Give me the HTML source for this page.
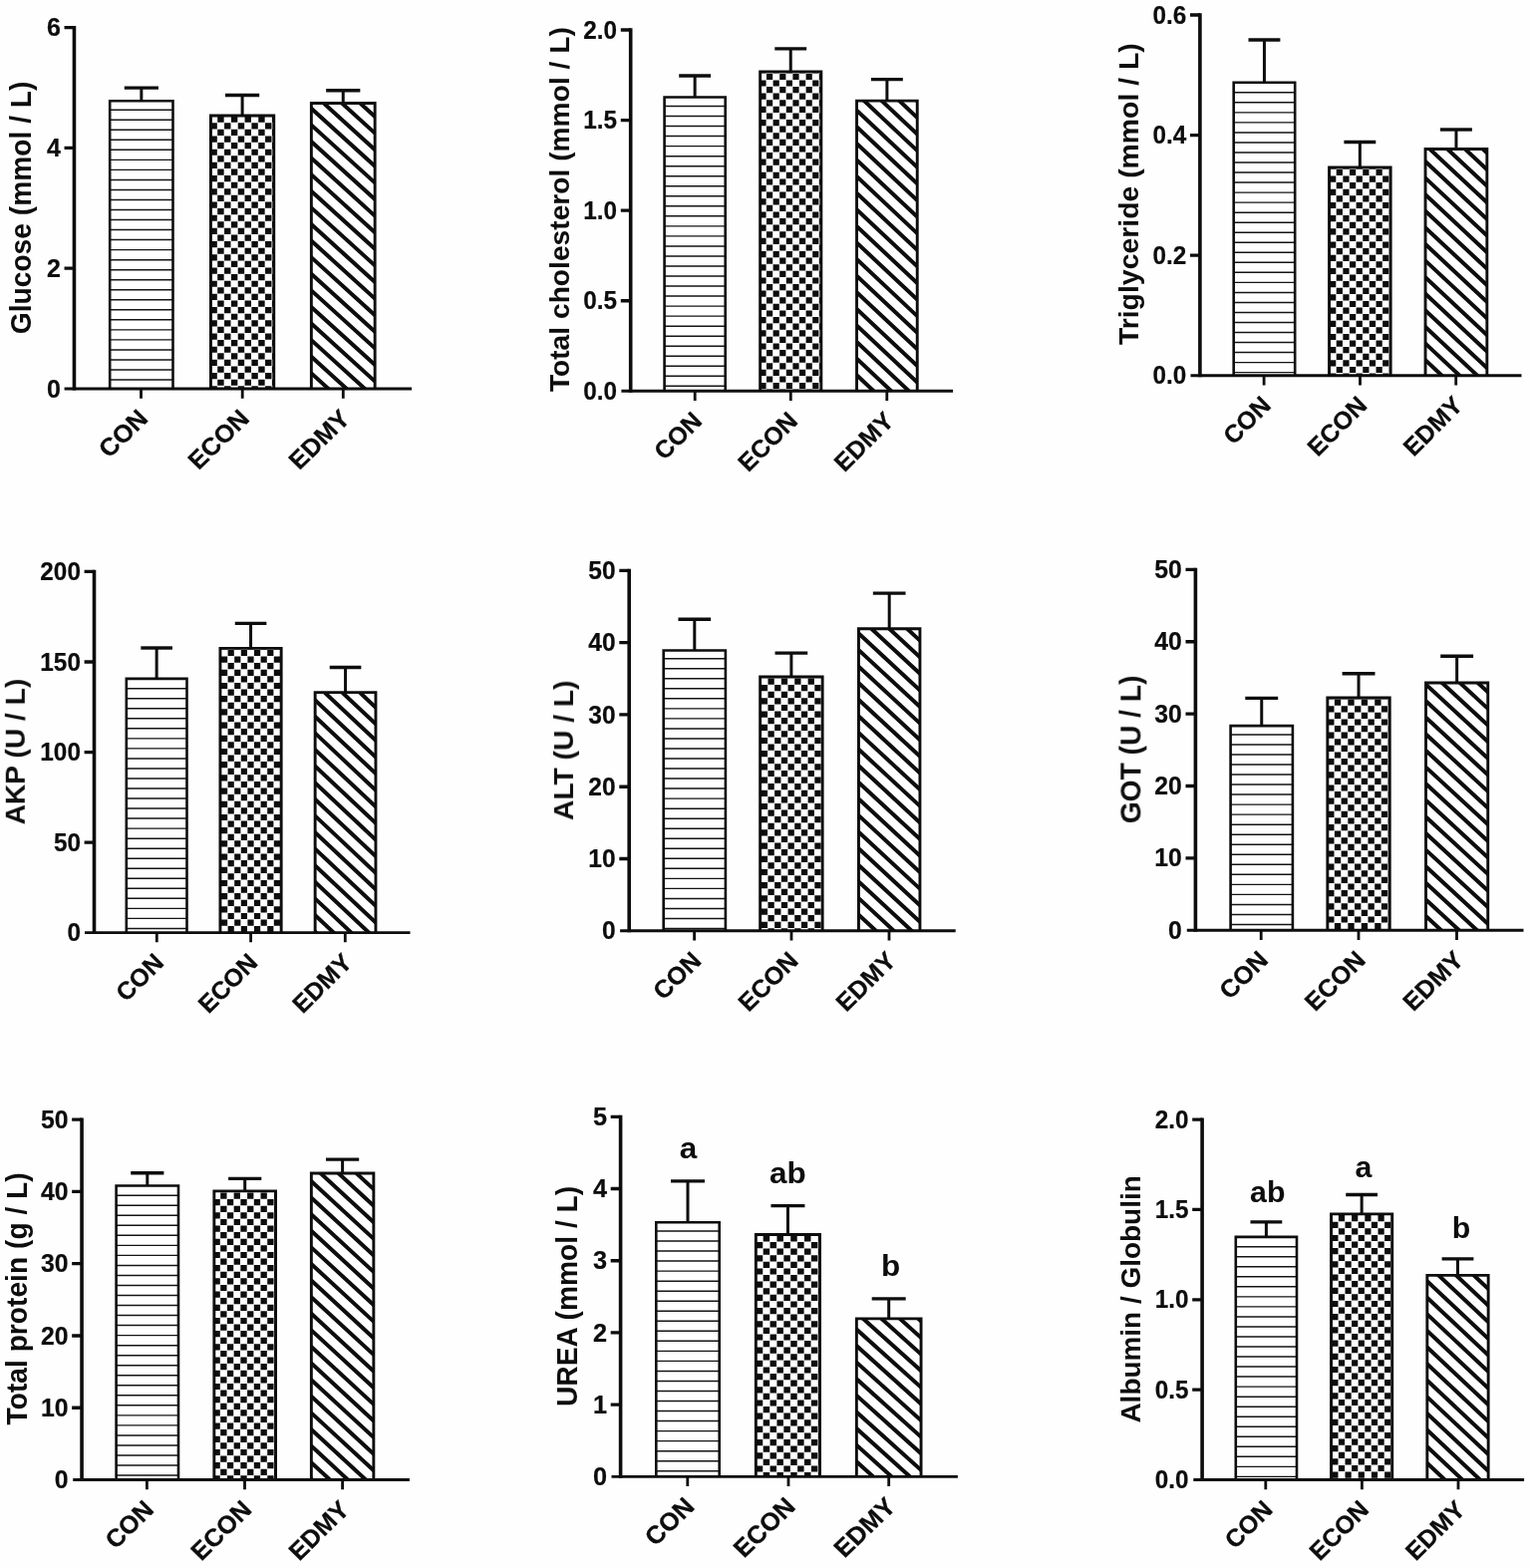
<!DOCTYPE html>
<html lang="en"><head><meta charset="utf-8"><title>Serum biochemical indices of CON, ECON and EDMY groups</title>
<style>
html,body{margin:0;padding:0;background:#fefefe;}
body{width:1535px;height:1573px;overflow:hidden;}
svg{display:block;}
#fig{filter:blur(0.4px);}
text{font-family:'Liberation Sans', Arial, Helvetica, sans-serif;font-weight:700;fill:#0d0d0d;stroke:#0d0d0d;stroke-width:0px;stroke-linejoin:round;}
.tk{font-size:24.3px;text-anchor:end;stroke-width:0.2px;}
.yl{font-size:28.2px;text-anchor:middle;}
.xl{font-size:24.9px;text-anchor:end;stroke-width:0.25px;}
.lt{font-size:30.3px;text-anchor:middle;}
.ax{stroke:#0d0d0d;stroke-width:3.6;fill:none;}
.axx{stroke:#0d0d0d;stroke-width:2.9;fill:none;}
.ti{stroke:#0d0d0d;stroke-width:3.3;fill:none;}
.tx{stroke:#0d0d0d;stroke-width:2.8;fill:none;}
.er{stroke:#0d0d0d;stroke-width:3.0;fill:none;}
.ca{stroke:#0d0d0d;stroke-width:3.4;fill:none;}
.bo{stroke:#0d0d0d;stroke-width:2.6;fill:none;}
.hl{stroke:#141414;stroke-width:1.45;fill:none;}
.dl{stroke:#0d0d0d;stroke-width:4.0;fill:none;}
.ck{fill:#0d0d0d;stroke:none;}
</style></head><body>
<svg width="1535" height="1573" viewBox="0 0 1535 1573" role="img" aria-label="Nine bar charts of serum indices">
<rect width="1535" height="1573" fill="#fefefe"/>
<g id="fig">
<g id="p1">
<path class="er" d="M141.85 101V88.1"/>
<path class="ca" d="M124.75 88.1H158.95"/>
<rect x="110.2" y="101.3" width="63.3" height="288.7" fill="#fff"/>
<svg x="110.2" y="101.3" width="63.3" height="288.7" viewBox="110.2 101.3 63.3 288.7" overflow="hidden"><path class="hl" d="M110.2 110.2H173.5M110.2 120.23H173.5M110.2 130.26H173.5M110.2 140.29H173.5M110.2 150.32H173.5M110.2 160.35H173.5M110.2 170.38H173.5M110.2 180.41H173.5M110.2 190.44H173.5M110.2 200.47H173.5M110.2 210.5H173.5M110.2 220.53H173.5M110.2 230.56H173.5M110.2 240.59H173.5M110.2 250.62H173.5M110.2 260.65H173.5M110.2 270.68H173.5M110.2 280.71H173.5M110.2 290.74H173.5M110.2 300.77H173.5M110.2 310.8H173.5M110.2 320.83H173.5M110.2 330.86H173.5M110.2 340.89H173.5M110.2 350.92H173.5M110.2 360.95H173.5M110.2 370.98H173.5M110.2 381.01H173.5"/></svg>
<path class="bo" d="M110.2 390V101.3H173.5V390"/>
<path class="er" d="M243.1 115.5V95.5"/>
<path class="ca" d="M226 95.5H260.2"/>
<rect x="211.3" y="115.8" width="63.6" height="274.2" fill="#fff"/>
<svg x="211.3" y="115.8" width="63.6" height="274.2" viewBox="211.3 115.8 63.6 274.2" overflow="hidden"><path class="ck" d="M204.57 103.46h6.43v6.2h-6.43zM218.23 103.46h6.43v6.2h-6.43zM231.9 103.46h6.43v6.2h-6.43zM245.56 103.46h6.43v6.2h-6.43zM259.22 103.46h6.43v6.2h-6.43zM272.88 103.46h6.43v6.2h-6.43zM211.4 110.06h6.43v6.2h-6.43zM225.07 110.06h6.43v6.2h-6.43zM238.73 110.06h6.43v6.2h-6.43zM252.39 110.06h6.43v6.2h-6.43zM266.05 110.06h6.43v6.2h-6.43zM279.71 110.06h6.43v6.2h-6.43zM204.57 116.66h6.43v6.2h-6.43zM218.23 116.66h6.43v6.2h-6.43zM231.9 116.66h6.43v6.2h-6.43zM245.56 116.66h6.43v6.2h-6.43zM259.22 116.66h6.43v6.2h-6.43zM272.88 116.66h6.43v6.2h-6.43zM211.4 123.26h6.43v6.2h-6.43zM225.07 123.26h6.43v6.2h-6.43zM238.73 123.26h6.43v6.2h-6.43zM252.39 123.26h6.43v6.2h-6.43zM266.05 123.26h6.43v6.2h-6.43zM279.71 123.26h6.43v6.2h-6.43zM204.57 129.86h6.43v6.2h-6.43zM218.23 129.86h6.43v6.2h-6.43zM231.9 129.86h6.43v6.2h-6.43zM245.56 129.86h6.43v6.2h-6.43zM259.22 129.86h6.43v6.2h-6.43zM272.88 129.86h6.43v6.2h-6.43zM211.4 136.46h6.43v6.2h-6.43zM225.07 136.46h6.43v6.2h-6.43zM238.73 136.46h6.43v6.2h-6.43zM252.39 136.46h6.43v6.2h-6.43zM266.05 136.46h6.43v6.2h-6.43zM279.71 136.46h6.43v6.2h-6.43zM204.57 143.06h6.43v6.2h-6.43zM218.23 143.06h6.43v6.2h-6.43zM231.9 143.06h6.43v6.2h-6.43zM245.56 143.06h6.43v6.2h-6.43zM259.22 143.06h6.43v6.2h-6.43zM272.88 143.06h6.43v6.2h-6.43zM211.4 149.66h6.43v6.2h-6.43zM225.07 149.66h6.43v6.2h-6.43zM238.73 149.66h6.43v6.2h-6.43zM252.39 149.66h6.43v6.2h-6.43zM266.05 149.66h6.43v6.2h-6.43zM279.71 149.66h6.43v6.2h-6.43zM204.57 156.26h6.43v6.2h-6.43zM218.23 156.26h6.43v6.2h-6.43zM231.9 156.26h6.43v6.2h-6.43zM245.56 156.26h6.43v6.2h-6.43zM259.22 156.26h6.43v6.2h-6.43zM272.88 156.26h6.43v6.2h-6.43zM211.4 162.86h6.43v6.2h-6.43zM225.07 162.86h6.43v6.2h-6.43zM238.73 162.86h6.43v6.2h-6.43zM252.39 162.86h6.43v6.2h-6.43zM266.05 162.86h6.43v6.2h-6.43zM279.71 162.86h6.43v6.2h-6.43zM204.57 169.46h6.43v6.2h-6.43zM218.23 169.46h6.43v6.2h-6.43zM231.9 169.46h6.43v6.2h-6.43zM245.56 169.46h6.43v6.2h-6.43zM259.22 169.46h6.43v6.2h-6.43zM272.88 169.46h6.43v6.2h-6.43zM211.4 176.06h6.43v6.2h-6.43zM225.07 176.06h6.43v6.2h-6.43zM238.73 176.06h6.43v6.2h-6.43zM252.39 176.06h6.43v6.2h-6.43zM266.05 176.06h6.43v6.2h-6.43zM279.71 176.06h6.43v6.2h-6.43zM204.57 182.66h6.43v6.2h-6.43zM218.23 182.66h6.43v6.2h-6.43zM231.9 182.66h6.43v6.2h-6.43zM245.56 182.66h6.43v6.2h-6.43zM259.22 182.66h6.43v6.2h-6.43zM272.88 182.66h6.43v6.2h-6.43zM211.4 189.26h6.43v6.2h-6.43zM225.07 189.26h6.43v6.2h-6.43zM238.73 189.26h6.43v6.2h-6.43zM252.39 189.26h6.43v6.2h-6.43zM266.05 189.26h6.43v6.2h-6.43zM279.71 189.26h6.43v6.2h-6.43zM204.57 195.86h6.43v6.2h-6.43zM218.23 195.86h6.43v6.2h-6.43zM231.9 195.86h6.43v6.2h-6.43zM245.56 195.86h6.43v6.2h-6.43zM259.22 195.86h6.43v6.2h-6.43zM272.88 195.86h6.43v6.2h-6.43zM211.4 202.46h6.43v6.2h-6.43zM225.07 202.46h6.43v6.2h-6.43zM238.73 202.46h6.43v6.2h-6.43zM252.39 202.46h6.43v6.2h-6.43zM266.05 202.46h6.43v6.2h-6.43zM279.71 202.46h6.43v6.2h-6.43zM204.57 209.06h6.43v6.2h-6.43zM218.23 209.06h6.43v6.2h-6.43zM231.9 209.06h6.43v6.2h-6.43zM245.56 209.06h6.43v6.2h-6.43zM259.22 209.06h6.43v6.2h-6.43zM272.88 209.06h6.43v6.2h-6.43zM211.4 215.66h6.43v6.2h-6.43zM225.07 215.66h6.43v6.2h-6.43zM238.73 215.66h6.43v6.2h-6.43zM252.39 215.66h6.43v6.2h-6.43zM266.05 215.66h6.43v6.2h-6.43zM279.71 215.66h6.43v6.2h-6.43zM204.57 222.26h6.43v6.2h-6.43zM218.23 222.26h6.43v6.2h-6.43zM231.9 222.26h6.43v6.2h-6.43zM245.56 222.26h6.43v6.2h-6.43zM259.22 222.26h6.43v6.2h-6.43zM272.88 222.26h6.43v6.2h-6.43zM211.4 228.86h6.43v6.2h-6.43zM225.07 228.86h6.43v6.2h-6.43zM238.73 228.86h6.43v6.2h-6.43zM252.39 228.86h6.43v6.2h-6.43zM266.05 228.86h6.43v6.2h-6.43zM279.71 228.86h6.43v6.2h-6.43zM204.57 235.46h6.43v6.2h-6.43zM218.23 235.46h6.43v6.2h-6.43zM231.9 235.46h6.43v6.2h-6.43zM245.56 235.46h6.43v6.2h-6.43zM259.22 235.46h6.43v6.2h-6.43zM272.88 235.46h6.43v6.2h-6.43zM211.4 242.06h6.43v6.2h-6.43zM225.07 242.06h6.43v6.2h-6.43zM238.73 242.06h6.43v6.2h-6.43zM252.39 242.06h6.43v6.2h-6.43zM266.05 242.06h6.43v6.2h-6.43zM279.71 242.06h6.43v6.2h-6.43zM204.57 248.66h6.43v6.2h-6.43zM218.23 248.66h6.43v6.2h-6.43zM231.9 248.66h6.43v6.2h-6.43zM245.56 248.66h6.43v6.2h-6.43zM259.22 248.66h6.43v6.2h-6.43zM272.88 248.66h6.43v6.2h-6.43zM211.4 255.26h6.43v6.2h-6.43zM225.07 255.26h6.43v6.2h-6.43zM238.73 255.26h6.43v6.2h-6.43zM252.39 255.26h6.43v6.2h-6.43zM266.05 255.26h6.43v6.2h-6.43zM279.71 255.26h6.43v6.2h-6.43zM204.57 261.86h6.43v6.2h-6.43zM218.23 261.86h6.43v6.2h-6.43zM231.9 261.86h6.43v6.2h-6.43zM245.56 261.86h6.43v6.2h-6.43zM259.22 261.86h6.43v6.2h-6.43zM272.88 261.86h6.43v6.2h-6.43zM211.4 268.46h6.43v6.2h-6.43zM225.07 268.46h6.43v6.2h-6.43zM238.73 268.46h6.43v6.2h-6.43zM252.39 268.46h6.43v6.2h-6.43zM266.05 268.46h6.43v6.2h-6.43zM279.71 268.46h6.43v6.2h-6.43zM204.57 275.06h6.43v6.2h-6.43zM218.23 275.06h6.43v6.2h-6.43zM231.9 275.06h6.43v6.2h-6.43zM245.56 275.06h6.43v6.2h-6.43zM259.22 275.06h6.43v6.2h-6.43zM272.88 275.06h6.43v6.2h-6.43zM211.4 281.66h6.43v6.2h-6.43zM225.07 281.66h6.43v6.2h-6.43zM238.73 281.66h6.43v6.2h-6.43zM252.39 281.66h6.43v6.2h-6.43zM266.05 281.66h6.43v6.2h-6.43zM279.71 281.66h6.43v6.2h-6.43zM204.57 288.26h6.43v6.2h-6.43zM218.23 288.26h6.43v6.2h-6.43zM231.9 288.26h6.43v6.2h-6.43zM245.56 288.26h6.43v6.2h-6.43zM259.22 288.26h6.43v6.2h-6.43zM272.88 288.26h6.43v6.2h-6.43zM211.4 294.86h6.43v6.2h-6.43zM225.07 294.86h6.43v6.2h-6.43zM238.73 294.86h6.43v6.2h-6.43zM252.39 294.86h6.43v6.2h-6.43zM266.05 294.86h6.43v6.2h-6.43zM279.71 294.86h6.43v6.2h-6.43zM204.57 301.46h6.43v6.2h-6.43zM218.23 301.46h6.43v6.2h-6.43zM231.9 301.46h6.43v6.2h-6.43zM245.56 301.46h6.43v6.2h-6.43zM259.22 301.46h6.43v6.2h-6.43zM272.88 301.46h6.43v6.2h-6.43zM211.4 308.06h6.43v6.2h-6.43zM225.07 308.06h6.43v6.2h-6.43zM238.73 308.06h6.43v6.2h-6.43zM252.39 308.06h6.43v6.2h-6.43zM266.05 308.06h6.43v6.2h-6.43zM279.71 308.06h6.43v6.2h-6.43zM204.57 314.66h6.43v6.2h-6.43zM218.23 314.66h6.43v6.2h-6.43zM231.9 314.66h6.43v6.2h-6.43zM245.56 314.66h6.43v6.2h-6.43zM259.22 314.66h6.43v6.2h-6.43zM272.88 314.66h6.43v6.2h-6.43zM211.4 321.26h6.43v6.2h-6.43zM225.07 321.26h6.43v6.2h-6.43zM238.73 321.26h6.43v6.2h-6.43zM252.39 321.26h6.43v6.2h-6.43zM266.05 321.26h6.43v6.2h-6.43zM279.71 321.26h6.43v6.2h-6.43zM204.57 327.86h6.43v6.2h-6.43zM218.23 327.86h6.43v6.2h-6.43zM231.9 327.86h6.43v6.2h-6.43zM245.56 327.86h6.43v6.2h-6.43zM259.22 327.86h6.43v6.2h-6.43zM272.88 327.86h6.43v6.2h-6.43zM211.4 334.46h6.43v6.2h-6.43zM225.07 334.46h6.43v6.2h-6.43zM238.73 334.46h6.43v6.2h-6.43zM252.39 334.46h6.43v6.2h-6.43zM266.05 334.46h6.43v6.2h-6.43zM279.71 334.46h6.43v6.2h-6.43zM204.57 341.06h6.43v6.2h-6.43zM218.23 341.06h6.43v6.2h-6.43zM231.9 341.06h6.43v6.2h-6.43zM245.56 341.06h6.43v6.2h-6.43zM259.22 341.06h6.43v6.2h-6.43zM272.88 341.06h6.43v6.2h-6.43zM211.4 347.66h6.43v6.2h-6.43zM225.07 347.66h6.43v6.2h-6.43zM238.73 347.66h6.43v6.2h-6.43zM252.39 347.66h6.43v6.2h-6.43zM266.05 347.66h6.43v6.2h-6.43zM279.71 347.66h6.43v6.2h-6.43zM204.57 354.26h6.43v6.2h-6.43zM218.23 354.26h6.43v6.2h-6.43zM231.9 354.26h6.43v6.2h-6.43zM245.56 354.26h6.43v6.2h-6.43zM259.22 354.26h6.43v6.2h-6.43zM272.88 354.26h6.43v6.2h-6.43zM211.4 360.86h6.43v6.2h-6.43zM225.07 360.86h6.43v6.2h-6.43zM238.73 360.86h6.43v6.2h-6.43zM252.39 360.86h6.43v6.2h-6.43zM266.05 360.86h6.43v6.2h-6.43zM279.71 360.86h6.43v6.2h-6.43zM204.57 367.46h6.43v6.2h-6.43zM218.23 367.46h6.43v6.2h-6.43zM231.9 367.46h6.43v6.2h-6.43zM245.56 367.46h6.43v6.2h-6.43zM259.22 367.46h6.43v6.2h-6.43zM272.88 367.46h6.43v6.2h-6.43zM211.4 374.06h6.43v6.2h-6.43zM225.07 374.06h6.43v6.2h-6.43zM238.73 374.06h6.43v6.2h-6.43zM252.39 374.06h6.43v6.2h-6.43zM266.05 374.06h6.43v6.2h-6.43zM279.71 374.06h6.43v6.2h-6.43zM204.57 380.66h6.43v6.2h-6.43zM218.23 380.66h6.43v6.2h-6.43zM231.9 380.66h6.43v6.2h-6.43zM245.56 380.66h6.43v6.2h-6.43zM259.22 380.66h6.43v6.2h-6.43zM272.88 380.66h6.43v6.2h-6.43zM211.4 387.26h6.43v6.2h-6.43zM225.07 387.26h6.43v6.2h-6.43zM238.73 387.26h6.43v6.2h-6.43zM252.39 387.26h6.43v6.2h-6.43zM266.05 387.26h6.43v6.2h-6.43zM279.71 387.26h6.43v6.2h-6.43zM204.57 393.86h6.43v6.2h-6.43zM218.23 393.86h6.43v6.2h-6.43zM231.9 393.86h6.43v6.2h-6.43zM245.56 393.86h6.43v6.2h-6.43zM259.22 393.86h6.43v6.2h-6.43zM272.88 393.86h6.43v6.2h-6.43z"/></svg>
<path class="bo" style="stroke-width:2.9" d="M211.45 390V115.95H274.75V390"/>
<path class="er" d="M344.25 103.1V90.8"/>
<path class="ca" d="M327.15 90.8H361.35"/>
<rect x="312.2" y="103.4" width="64.1" height="286.6" fill="#fff"/>
<svg x="312.2" y="103.4" width="64.1" height="286.6" viewBox="312.2 103.4 64.1 286.6" overflow="hidden"><path class="dl" d="M306.2 20.25L382.3 89.37M306.2 36.85L382.3 105.97M306.2 53.45L382.3 122.57M306.2 70.05L382.3 139.17M306.2 86.65L382.3 155.77M306.2 103.25L382.3 172.37M306.2 119.85L382.3 188.97M306.2 136.45L382.3 205.57M306.2 153.05L382.3 222.17M306.2 169.65L382.3 238.77M306.2 186.25L382.3 255.37M306.2 202.85L382.3 271.97M306.2 219.45L382.3 288.57M306.2 236.05L382.3 305.17M306.2 252.65L382.3 321.77M306.2 269.25L382.3 338.37M306.2 285.85L382.3 354.97M306.2 302.45L382.3 371.57M306.2 319.05L382.3 388.17M306.2 335.65L382.3 404.77M306.2 352.25L382.3 421.37M306.2 368.85L382.3 437.97M306.2 385.45L382.3 454.57"/></svg>
<path class="bo" style="stroke-width:2.9" d="M312.35 390V103.55H376.15V390"/>
<path class="ax" d="M74.45 25.95V391.45"/>
<path class="axx" d="M64.6 390H413"/>
<text class="tk" transform="translate(60.85 36.2) scale(1.03 1.08)">6</text>
<text class="tk" transform="translate(60.85 157) scale(1.03 1.08)">4</text>
<text class="tk" transform="translate(60.85 277.8) scale(1.03 1.08)">2</text>
<text class="tk" transform="translate(60.85 398.6) scale(1.03 1.08)">0</text>
<path class="ti" d="M64.55 27.6H74.45M64.55 148.4H74.45M64.55 269.2H74.45"/>
<path class="tx" d="M141.5 390V399.7M243.2 390V399.7M344.3 390V399.7"/>
<text class="xl" transform="translate(149.9 421.4) scale(1.03 1) rotate(-45)">CON</text>
<text class="xl" transform="translate(251.6 421.4) scale(1.03 1) rotate(-45)">ECON</text>
<text class="xl" transform="translate(352.7 421.4) scale(1.03 1) rotate(-45)">EDMY</text>
<text class="yl" transform="translate(30.7 208.4) scale(1.03 1) rotate(-90)">Glucose (mmol / L)</text>
</g>
<g id="p2">
<path class="er" d="M697.15 97.2V76"/>
<path class="ca" d="M681.2 76H713.1"/>
<rect x="666.6" y="97.5" width="61.1" height="294.8" fill="#fff"/>
<svg x="666.6" y="97.5" width="61.1" height="294.8" viewBox="666.6 97.5 61.1 294.8" overflow="hidden"><path class="hl" d="M666.6 106.5H727.7M666.6 116.53H727.7M666.6 126.56H727.7M666.6 136.59H727.7M666.6 146.62H727.7M666.6 156.65H727.7M666.6 166.68H727.7M666.6 176.71H727.7M666.6 186.74H727.7M666.6 196.77H727.7M666.6 206.8H727.7M666.6 216.83H727.7M666.6 226.86H727.7M666.6 236.89H727.7M666.6 246.92H727.7M666.6 256.95H727.7M666.6 266.98H727.7M666.6 277.01H727.7M666.6 287.04H727.7M666.6 297.07H727.7M666.6 307.1H727.7M666.6 317.13H727.7M666.6 327.16H727.7M666.6 337.19H727.7M666.6 347.22H727.7M666.6 357.25H727.7M666.6 367.28H727.7M666.6 377.31H727.7M666.6 387.34H727.7"/></svg>
<path class="bo" d="M666.6 392.3V97.5H727.7V392.3"/>
<path class="er" d="M793.25 71.4V48.9"/>
<path class="ca" d="M777.3 48.9H809.2"/>
<rect x="762.5" y="71.7" width="61.5" height="320.6" fill="#fff"/>
<svg x="762.5" y="71.7" width="61.5" height="320.6" viewBox="762.5 71.7 61.5 320.6" overflow="hidden"><path class="ck" d="M755.8 60.6h6.2v6.2h-6.2zM769 60.6h6.2v6.2h-6.2zM782.2 60.6h6.2v6.2h-6.2zM795.4 60.6h6.2v6.2h-6.2zM808.6 60.6h6.2v6.2h-6.2zM821.8 60.6h6.2v6.2h-6.2zM762.4 67.2h6.2v6.2h-6.2zM775.6 67.2h6.2v6.2h-6.2zM788.8 67.2h6.2v6.2h-6.2zM802 67.2h6.2v6.2h-6.2zM815.2 67.2h6.2v6.2h-6.2zM828.4 67.2h6.2v6.2h-6.2zM755.8 73.8h6.2v6.2h-6.2zM769 73.8h6.2v6.2h-6.2zM782.2 73.8h6.2v6.2h-6.2zM795.4 73.8h6.2v6.2h-6.2zM808.6 73.8h6.2v6.2h-6.2zM821.8 73.8h6.2v6.2h-6.2zM762.4 80.4h6.2v6.2h-6.2zM775.6 80.4h6.2v6.2h-6.2zM788.8 80.4h6.2v6.2h-6.2zM802 80.4h6.2v6.2h-6.2zM815.2 80.4h6.2v6.2h-6.2zM828.4 80.4h6.2v6.2h-6.2zM755.8 87h6.2v6.2h-6.2zM769 87h6.2v6.2h-6.2zM782.2 87h6.2v6.2h-6.2zM795.4 87h6.2v6.2h-6.2zM808.6 87h6.2v6.2h-6.2zM821.8 87h6.2v6.2h-6.2zM762.4 93.6h6.2v6.2h-6.2zM775.6 93.6h6.2v6.2h-6.2zM788.8 93.6h6.2v6.2h-6.2zM802 93.6h6.2v6.2h-6.2zM815.2 93.6h6.2v6.2h-6.2zM828.4 93.6h6.2v6.2h-6.2zM755.8 100.2h6.2v6.2h-6.2zM769 100.2h6.2v6.2h-6.2zM782.2 100.2h6.2v6.2h-6.2zM795.4 100.2h6.2v6.2h-6.2zM808.6 100.2h6.2v6.2h-6.2zM821.8 100.2h6.2v6.2h-6.2zM762.4 106.8h6.2v6.2h-6.2zM775.6 106.8h6.2v6.2h-6.2zM788.8 106.8h6.2v6.2h-6.2zM802 106.8h6.2v6.2h-6.2zM815.2 106.8h6.2v6.2h-6.2zM828.4 106.8h6.2v6.2h-6.2zM755.8 113.4h6.2v6.2h-6.2zM769 113.4h6.2v6.2h-6.2zM782.2 113.4h6.2v6.2h-6.2zM795.4 113.4h6.2v6.2h-6.2zM808.6 113.4h6.2v6.2h-6.2zM821.8 113.4h6.2v6.2h-6.2zM762.4 120h6.2v6.2h-6.2zM775.6 120h6.2v6.2h-6.2zM788.8 120h6.2v6.2h-6.2zM802 120h6.2v6.2h-6.2zM815.2 120h6.2v6.2h-6.2zM828.4 120h6.2v6.2h-6.2zM755.8 126.6h6.2v6.2h-6.2zM769 126.6h6.2v6.2h-6.2zM782.2 126.6h6.2v6.2h-6.2zM795.4 126.6h6.2v6.2h-6.2zM808.6 126.6h6.2v6.2h-6.2zM821.8 126.6h6.2v6.2h-6.2zM762.4 133.2h6.2v6.2h-6.2zM775.6 133.2h6.2v6.2h-6.2zM788.8 133.2h6.2v6.2h-6.2zM802 133.2h6.2v6.2h-6.2zM815.2 133.2h6.2v6.2h-6.2zM828.4 133.2h6.2v6.2h-6.2zM755.8 139.8h6.2v6.2h-6.2zM769 139.8h6.2v6.2h-6.2zM782.2 139.8h6.2v6.2h-6.2zM795.4 139.8h6.2v6.2h-6.2zM808.6 139.8h6.2v6.2h-6.2zM821.8 139.8h6.2v6.2h-6.2zM762.4 146.4h6.2v6.2h-6.2zM775.6 146.4h6.2v6.2h-6.2zM788.8 146.4h6.2v6.2h-6.2zM802 146.4h6.2v6.2h-6.2zM815.2 146.4h6.2v6.2h-6.2zM828.4 146.4h6.2v6.2h-6.2zM755.8 153h6.2v6.2h-6.2zM769 153h6.2v6.2h-6.2zM782.2 153h6.2v6.2h-6.2zM795.4 153h6.2v6.2h-6.2zM808.6 153h6.2v6.2h-6.2zM821.8 153h6.2v6.2h-6.2zM762.4 159.6h6.2v6.2h-6.2zM775.6 159.6h6.2v6.2h-6.2zM788.8 159.6h6.2v6.2h-6.2zM802 159.6h6.2v6.2h-6.2zM815.2 159.6h6.2v6.2h-6.2zM828.4 159.6h6.2v6.2h-6.2zM755.8 166.2h6.2v6.2h-6.2zM769 166.2h6.2v6.2h-6.2zM782.2 166.2h6.2v6.2h-6.2zM795.4 166.2h6.2v6.2h-6.2zM808.6 166.2h6.2v6.2h-6.2zM821.8 166.2h6.2v6.2h-6.2zM762.4 172.8h6.2v6.2h-6.2zM775.6 172.8h6.2v6.2h-6.2zM788.8 172.8h6.2v6.2h-6.2zM802 172.8h6.2v6.2h-6.2zM815.2 172.8h6.2v6.2h-6.2zM828.4 172.8h6.2v6.2h-6.2zM755.8 179.4h6.2v6.2h-6.2zM769 179.4h6.2v6.2h-6.2zM782.2 179.4h6.2v6.2h-6.2zM795.4 179.4h6.2v6.2h-6.2zM808.6 179.4h6.2v6.2h-6.2zM821.8 179.4h6.2v6.2h-6.2zM762.4 186h6.2v6.2h-6.2zM775.6 186h6.2v6.2h-6.2zM788.8 186h6.2v6.2h-6.2zM802 186h6.2v6.2h-6.2zM815.2 186h6.2v6.2h-6.2zM828.4 186h6.2v6.2h-6.2zM755.8 192.6h6.2v6.2h-6.2zM769 192.6h6.2v6.2h-6.2zM782.2 192.6h6.2v6.2h-6.2zM795.4 192.6h6.2v6.2h-6.2zM808.6 192.6h6.2v6.2h-6.2zM821.8 192.6h6.2v6.2h-6.2zM762.4 199.2h6.2v6.2h-6.2zM775.6 199.2h6.2v6.2h-6.2zM788.8 199.2h6.2v6.2h-6.2zM802 199.2h6.2v6.2h-6.2zM815.2 199.2h6.2v6.2h-6.2zM828.4 199.2h6.2v6.2h-6.2zM755.8 205.8h6.2v6.2h-6.2zM769 205.8h6.2v6.2h-6.2zM782.2 205.8h6.2v6.2h-6.2zM795.4 205.8h6.2v6.2h-6.2zM808.6 205.8h6.2v6.2h-6.2zM821.8 205.8h6.2v6.2h-6.2zM762.4 212.4h6.2v6.2h-6.2zM775.6 212.4h6.2v6.2h-6.2zM788.8 212.4h6.2v6.2h-6.2zM802 212.4h6.2v6.2h-6.2zM815.2 212.4h6.2v6.2h-6.2zM828.4 212.4h6.2v6.2h-6.2zM755.8 219h6.2v6.2h-6.2zM769 219h6.2v6.2h-6.2zM782.2 219h6.2v6.2h-6.2zM795.4 219h6.2v6.2h-6.2zM808.6 219h6.2v6.2h-6.2zM821.8 219h6.2v6.2h-6.2zM762.4 225.6h6.2v6.2h-6.2zM775.6 225.6h6.2v6.2h-6.2zM788.8 225.6h6.2v6.2h-6.2zM802 225.6h6.2v6.2h-6.2zM815.2 225.6h6.2v6.2h-6.2zM828.4 225.6h6.2v6.2h-6.2zM755.8 232.2h6.2v6.2h-6.2zM769 232.2h6.2v6.2h-6.2zM782.2 232.2h6.2v6.2h-6.2zM795.4 232.2h6.2v6.2h-6.2zM808.6 232.2h6.2v6.2h-6.2zM821.8 232.2h6.2v6.2h-6.2zM762.4 238.8h6.2v6.2h-6.2zM775.6 238.8h6.2v6.2h-6.2zM788.8 238.8h6.2v6.2h-6.2zM802 238.8h6.2v6.2h-6.2zM815.2 238.8h6.2v6.2h-6.2zM828.4 238.8h6.2v6.2h-6.2zM755.8 245.4h6.2v6.2h-6.2zM769 245.4h6.2v6.2h-6.2zM782.2 245.4h6.2v6.2h-6.2zM795.4 245.4h6.2v6.2h-6.2zM808.6 245.4h6.2v6.2h-6.2zM821.8 245.4h6.2v6.2h-6.2zM762.4 252h6.2v6.2h-6.2zM775.6 252h6.2v6.2h-6.2zM788.8 252h6.2v6.2h-6.2zM802 252h6.2v6.2h-6.2zM815.2 252h6.2v6.2h-6.2zM828.4 252h6.2v6.2h-6.2zM755.8 258.6h6.2v6.2h-6.2zM769 258.6h6.2v6.2h-6.2zM782.2 258.6h6.2v6.2h-6.2zM795.4 258.6h6.2v6.2h-6.2zM808.6 258.6h6.2v6.2h-6.2zM821.8 258.6h6.2v6.2h-6.2zM762.4 265.2h6.2v6.2h-6.2zM775.6 265.2h6.2v6.2h-6.2zM788.8 265.2h6.2v6.2h-6.2zM802 265.2h6.2v6.2h-6.2zM815.2 265.2h6.2v6.2h-6.2zM828.4 265.2h6.2v6.2h-6.2zM755.8 271.8h6.2v6.2h-6.2zM769 271.8h6.2v6.2h-6.2zM782.2 271.8h6.2v6.2h-6.2zM795.4 271.8h6.2v6.2h-6.2zM808.6 271.8h6.2v6.2h-6.2zM821.8 271.8h6.2v6.2h-6.2zM762.4 278.4h6.2v6.2h-6.2zM775.6 278.4h6.2v6.2h-6.2zM788.8 278.4h6.2v6.2h-6.2zM802 278.4h6.2v6.2h-6.2zM815.2 278.4h6.2v6.2h-6.2zM828.4 278.4h6.2v6.2h-6.2zM755.8 285h6.2v6.2h-6.2zM769 285h6.2v6.2h-6.2zM782.2 285h6.2v6.2h-6.2zM795.4 285h6.2v6.2h-6.2zM808.6 285h6.2v6.2h-6.2zM821.8 285h6.2v6.2h-6.2zM762.4 291.6h6.2v6.2h-6.2zM775.6 291.6h6.2v6.2h-6.2zM788.8 291.6h6.2v6.2h-6.2zM802 291.6h6.2v6.2h-6.2zM815.2 291.6h6.2v6.2h-6.2zM828.4 291.6h6.2v6.2h-6.2zM755.8 298.2h6.2v6.2h-6.2zM769 298.2h6.2v6.2h-6.2zM782.2 298.2h6.2v6.2h-6.2zM795.4 298.2h6.2v6.2h-6.2zM808.6 298.2h6.2v6.2h-6.2zM821.8 298.2h6.2v6.2h-6.2zM762.4 304.8h6.2v6.2h-6.2zM775.6 304.8h6.2v6.2h-6.2zM788.8 304.8h6.2v6.2h-6.2zM802 304.8h6.2v6.2h-6.2zM815.2 304.8h6.2v6.2h-6.2zM828.4 304.8h6.2v6.2h-6.2zM755.8 311.4h6.2v6.2h-6.2zM769 311.4h6.2v6.2h-6.2zM782.2 311.4h6.2v6.2h-6.2zM795.4 311.4h6.2v6.2h-6.2zM808.6 311.4h6.2v6.2h-6.2zM821.8 311.4h6.2v6.2h-6.2zM762.4 318h6.2v6.2h-6.2zM775.6 318h6.2v6.2h-6.2zM788.8 318h6.2v6.2h-6.2zM802 318h6.2v6.2h-6.2zM815.2 318h6.2v6.2h-6.2zM828.4 318h6.2v6.2h-6.2zM755.8 324.6h6.2v6.2h-6.2zM769 324.6h6.2v6.2h-6.2zM782.2 324.6h6.2v6.2h-6.2zM795.4 324.6h6.2v6.2h-6.2zM808.6 324.6h6.2v6.2h-6.2zM821.8 324.6h6.2v6.2h-6.2zM762.4 331.2h6.2v6.2h-6.2zM775.6 331.2h6.2v6.2h-6.2zM788.8 331.2h6.2v6.2h-6.2zM802 331.2h6.2v6.2h-6.2zM815.2 331.2h6.2v6.2h-6.2zM828.4 331.2h6.2v6.2h-6.2zM755.8 337.8h6.2v6.2h-6.2zM769 337.8h6.2v6.2h-6.2zM782.2 337.8h6.2v6.2h-6.2zM795.4 337.8h6.2v6.2h-6.2zM808.6 337.8h6.2v6.2h-6.2zM821.8 337.8h6.2v6.2h-6.2zM762.4 344.4h6.2v6.2h-6.2zM775.6 344.4h6.2v6.2h-6.2zM788.8 344.4h6.2v6.2h-6.2zM802 344.4h6.2v6.2h-6.2zM815.2 344.4h6.2v6.2h-6.2zM828.4 344.4h6.2v6.2h-6.2zM755.8 351h6.2v6.2h-6.2zM769 351h6.2v6.2h-6.2zM782.2 351h6.2v6.2h-6.2zM795.4 351h6.2v6.2h-6.2zM808.6 351h6.2v6.2h-6.2zM821.8 351h6.2v6.2h-6.2zM762.4 357.6h6.2v6.2h-6.2zM775.6 357.6h6.2v6.2h-6.2zM788.8 357.6h6.2v6.2h-6.2zM802 357.6h6.2v6.2h-6.2zM815.2 357.6h6.2v6.2h-6.2zM828.4 357.6h6.2v6.2h-6.2zM755.8 364.2h6.2v6.2h-6.2zM769 364.2h6.2v6.2h-6.2zM782.2 364.2h6.2v6.2h-6.2zM795.4 364.2h6.2v6.2h-6.2zM808.6 364.2h6.2v6.2h-6.2zM821.8 364.2h6.2v6.2h-6.2zM762.4 370.8h6.2v6.2h-6.2zM775.6 370.8h6.2v6.2h-6.2zM788.8 370.8h6.2v6.2h-6.2zM802 370.8h6.2v6.2h-6.2zM815.2 370.8h6.2v6.2h-6.2zM828.4 370.8h6.2v6.2h-6.2zM755.8 377.4h6.2v6.2h-6.2zM769 377.4h6.2v6.2h-6.2zM782.2 377.4h6.2v6.2h-6.2zM795.4 377.4h6.2v6.2h-6.2zM808.6 377.4h6.2v6.2h-6.2zM821.8 377.4h6.2v6.2h-6.2zM762.4 384h6.2v6.2h-6.2zM775.6 384h6.2v6.2h-6.2zM788.8 384h6.2v6.2h-6.2zM802 384h6.2v6.2h-6.2zM815.2 384h6.2v6.2h-6.2zM828.4 384h6.2v6.2h-6.2zM755.8 390.6h6.2v6.2h-6.2zM769 390.6h6.2v6.2h-6.2zM782.2 390.6h6.2v6.2h-6.2zM795.4 390.6h6.2v6.2h-6.2zM808.6 390.6h6.2v6.2h-6.2zM821.8 390.6h6.2v6.2h-6.2zM762.4 397.2h6.2v6.2h-6.2zM775.6 397.2h6.2v6.2h-6.2zM788.8 397.2h6.2v6.2h-6.2zM802 397.2h6.2v6.2h-6.2zM815.2 397.2h6.2v6.2h-6.2zM828.4 397.2h6.2v6.2h-6.2z"/></svg>
<path class="bo" style="stroke-width:2.9" d="M762.65 392.3V71.85H823.85V392.3"/>
<path class="er" d="M889.9 100.7V79.6"/>
<path class="ca" d="M873.95 79.6H905.85"/>
<rect x="859.4" y="101" width="61" height="291.3" fill="#fff"/>
<svg x="859.4" y="101" width="61" height="291.3" viewBox="859.4 101 61 291.3" overflow="hidden"><path class="dl" d="M853.4 5.33L926.4 73.95M853.4 21.93L926.4 90.55M853.4 38.53L926.4 107.15M853.4 55.13L926.4 123.75M853.4 71.73L926.4 140.35M853.4 88.33L926.4 156.95M853.4 104.93L926.4 173.55M853.4 121.53L926.4 190.15M853.4 138.13L926.4 206.75M853.4 154.73L926.4 223.35M853.4 171.33L926.4 239.95M853.4 187.93L926.4 256.55M853.4 204.53L926.4 273.15M853.4 221.13L926.4 289.75M853.4 237.73L926.4 306.35M853.4 254.33L926.4 322.95M853.4 270.93L926.4 339.55M853.4 287.53L926.4 356.15M853.4 304.13L926.4 372.75M853.4 320.73L926.4 389.35M853.4 337.33L926.4 405.95M853.4 353.93L926.4 422.55M853.4 370.53L926.4 439.15M853.4 387.13L926.4 455.75"/></svg>
<path class="bo" style="stroke-width:2.9" d="M859.55 392.3V101.15H920.25V392.3"/>
<path class="ax" d="M632.7 28.35V393.75"/>
<path class="axx" d="M623.4 392.3H956.1"/>
<text class="tk" transform="translate(619.1 38.6) scale(1 1.08)">2.0</text>
<text class="tk" transform="translate(619.1 129.18) scale(1 1.08)">1.5</text>
<text class="tk" transform="translate(619.1 219.75) scale(1 1.08)">1.0</text>
<text class="tk" transform="translate(619.1 310.33) scale(1 1.08)">0.5</text>
<text class="tk" transform="translate(619.1 400.9) scale(1 1.08)">0.0</text>
<path class="ti" d="M622.8 30H632.7M622.8 120.58H632.7M622.8 211.15H632.7M622.8 301.73H632.7"/>
<path class="tx" d="M697.2 392.3V402M793.3 392.3V402M889.8 392.3V402"/>
<text class="xl" transform="translate(705.6 423.7) scale(1 1) rotate(-45)">CON</text>
<text class="xl" transform="translate(801.7 423.7) scale(1 1) rotate(-45)">ECON</text>
<text class="xl" transform="translate(898.2 423.7) scale(1 1) rotate(-45)">EDMY</text>
<text class="yl" transform="translate(571 210.15) scale(1 1) rotate(-90)">Total cholesterol (mmol / L)</text>
</g>
<g id="p3">
<path class="er" d="M1268.45 82.4V40"/>
<path class="ca" d="M1252.5 40H1284.4"/>
<rect x="1237.7" y="82.7" width="61.5" height="294" fill="#fff"/>
<svg x="1237.7" y="82.7" width="61.5" height="294" viewBox="1237.7 82.7 61.5 294" overflow="hidden"><path class="hl" d="M1237.7 82.77H1299.2M1237.7 92.8H1299.2M1237.7 102.83H1299.2M1237.7 112.86H1299.2M1237.7 122.89H1299.2M1237.7 132.92H1299.2M1237.7 142.95H1299.2M1237.7 152.98H1299.2M1237.7 163.01H1299.2M1237.7 173.04H1299.2M1237.7 183.07H1299.2M1237.7 193.1H1299.2M1237.7 203.13H1299.2M1237.7 213.16H1299.2M1237.7 223.19H1299.2M1237.7 233.22H1299.2M1237.7 243.25H1299.2M1237.7 253.28H1299.2M1237.7 263.31H1299.2M1237.7 273.34H1299.2M1237.7 283.37H1299.2M1237.7 293.4H1299.2M1237.7 303.43H1299.2M1237.7 313.46H1299.2M1237.7 323.49H1299.2M1237.7 333.52H1299.2M1237.7 343.55H1299.2M1237.7 353.58H1299.2M1237.7 363.61H1299.2M1237.7 373.64H1299.2"/></svg>
<path class="bo" d="M1237.7 376.7V82.7H1299.2V376.7"/>
<path class="er" d="M1364.35 167.6V142.5"/>
<path class="ca" d="M1348.4 142.5H1380.3"/>
<rect x="1333.4" y="167.9" width="61.9" height="208.8" fill="#fff"/>
<svg x="1333.4" y="167.9" width="61.9" height="208.8" viewBox="1333.4 167.9 61.9 208.8" overflow="hidden"><path class="ck" d="M1327.45 156.7h6.23v6.2h-6.23zM1340.72 156.7h6.23v6.2h-6.23zM1353.98 156.7h6.23v6.2h-6.23zM1367.25 156.7h6.23v6.2h-6.23zM1380.52 156.7h6.23v6.2h-6.23zM1393.78 156.7h6.23v6.2h-6.23zM1320.82 163.3h6.23v6.2h-6.23zM1334.08 163.3h6.23v6.2h-6.23zM1347.35 163.3h6.23v6.2h-6.23zM1360.62 163.3h6.23v6.2h-6.23zM1373.88 163.3h6.23v6.2h-6.23zM1387.15 163.3h6.23v6.2h-6.23zM1400.41 163.3h6.23v6.2h-6.23zM1327.45 169.9h6.23v6.2h-6.23zM1340.72 169.9h6.23v6.2h-6.23zM1353.98 169.9h6.23v6.2h-6.23zM1367.25 169.9h6.23v6.2h-6.23zM1380.52 169.9h6.23v6.2h-6.23zM1393.78 169.9h6.23v6.2h-6.23zM1320.82 176.5h6.23v6.2h-6.23zM1334.08 176.5h6.23v6.2h-6.23zM1347.35 176.5h6.23v6.2h-6.23zM1360.62 176.5h6.23v6.2h-6.23zM1373.88 176.5h6.23v6.2h-6.23zM1387.15 176.5h6.23v6.2h-6.23zM1400.41 176.5h6.23v6.2h-6.23zM1327.45 183.1h6.23v6.2h-6.23zM1340.72 183.1h6.23v6.2h-6.23zM1353.98 183.1h6.23v6.2h-6.23zM1367.25 183.1h6.23v6.2h-6.23zM1380.52 183.1h6.23v6.2h-6.23zM1393.78 183.1h6.23v6.2h-6.23zM1320.82 189.7h6.23v6.2h-6.23zM1334.08 189.7h6.23v6.2h-6.23zM1347.35 189.7h6.23v6.2h-6.23zM1360.62 189.7h6.23v6.2h-6.23zM1373.88 189.7h6.23v6.2h-6.23zM1387.15 189.7h6.23v6.2h-6.23zM1400.41 189.7h6.23v6.2h-6.23zM1327.45 196.3h6.23v6.2h-6.23zM1340.72 196.3h6.23v6.2h-6.23zM1353.98 196.3h6.23v6.2h-6.23zM1367.25 196.3h6.23v6.2h-6.23zM1380.52 196.3h6.23v6.2h-6.23zM1393.78 196.3h6.23v6.2h-6.23zM1320.82 202.9h6.23v6.2h-6.23zM1334.08 202.9h6.23v6.2h-6.23zM1347.35 202.9h6.23v6.2h-6.23zM1360.62 202.9h6.23v6.2h-6.23zM1373.88 202.9h6.23v6.2h-6.23zM1387.15 202.9h6.23v6.2h-6.23zM1400.41 202.9h6.23v6.2h-6.23zM1327.45 209.5h6.23v6.2h-6.23zM1340.72 209.5h6.23v6.2h-6.23zM1353.98 209.5h6.23v6.2h-6.23zM1367.25 209.5h6.23v6.2h-6.23zM1380.52 209.5h6.23v6.2h-6.23zM1393.78 209.5h6.23v6.2h-6.23zM1320.82 216.1h6.23v6.2h-6.23zM1334.08 216.1h6.23v6.2h-6.23zM1347.35 216.1h6.23v6.2h-6.23zM1360.62 216.1h6.23v6.2h-6.23zM1373.88 216.1h6.23v6.2h-6.23zM1387.15 216.1h6.23v6.2h-6.23zM1400.41 216.1h6.23v6.2h-6.23zM1327.45 222.7h6.23v6.2h-6.23zM1340.72 222.7h6.23v6.2h-6.23zM1353.98 222.7h6.23v6.2h-6.23zM1367.25 222.7h6.23v6.2h-6.23zM1380.52 222.7h6.23v6.2h-6.23zM1393.78 222.7h6.23v6.2h-6.23zM1320.82 229.3h6.23v6.2h-6.23zM1334.08 229.3h6.23v6.2h-6.23zM1347.35 229.3h6.23v6.2h-6.23zM1360.62 229.3h6.23v6.2h-6.23zM1373.88 229.3h6.23v6.2h-6.23zM1387.15 229.3h6.23v6.2h-6.23zM1400.41 229.3h6.23v6.2h-6.23zM1327.45 235.9h6.23v6.2h-6.23zM1340.72 235.9h6.23v6.2h-6.23zM1353.98 235.9h6.23v6.2h-6.23zM1367.25 235.9h6.23v6.2h-6.23zM1380.52 235.9h6.23v6.2h-6.23zM1393.78 235.9h6.23v6.2h-6.23zM1320.82 242.5h6.23v6.2h-6.23zM1334.08 242.5h6.23v6.2h-6.23zM1347.35 242.5h6.23v6.2h-6.23zM1360.62 242.5h6.23v6.2h-6.23zM1373.88 242.5h6.23v6.2h-6.23zM1387.15 242.5h6.23v6.2h-6.23zM1400.41 242.5h6.23v6.2h-6.23zM1327.45 249.1h6.23v6.2h-6.23zM1340.72 249.1h6.23v6.2h-6.23zM1353.98 249.1h6.23v6.2h-6.23zM1367.25 249.1h6.23v6.2h-6.23zM1380.52 249.1h6.23v6.2h-6.23zM1393.78 249.1h6.23v6.2h-6.23zM1320.82 255.7h6.23v6.2h-6.23zM1334.08 255.7h6.23v6.2h-6.23zM1347.35 255.7h6.23v6.2h-6.23zM1360.62 255.7h6.23v6.2h-6.23zM1373.88 255.7h6.23v6.2h-6.23zM1387.15 255.7h6.23v6.2h-6.23zM1400.41 255.7h6.23v6.2h-6.23zM1327.45 262.3h6.23v6.2h-6.23zM1340.72 262.3h6.23v6.2h-6.23zM1353.98 262.3h6.23v6.2h-6.23zM1367.25 262.3h6.23v6.2h-6.23zM1380.52 262.3h6.23v6.2h-6.23zM1393.78 262.3h6.23v6.2h-6.23zM1320.82 268.9h6.23v6.2h-6.23zM1334.08 268.9h6.23v6.2h-6.23zM1347.35 268.9h6.23v6.2h-6.23zM1360.62 268.9h6.23v6.2h-6.23zM1373.88 268.9h6.23v6.2h-6.23zM1387.15 268.9h6.23v6.2h-6.23zM1400.41 268.9h6.23v6.2h-6.23zM1327.45 275.5h6.23v6.2h-6.23zM1340.72 275.5h6.23v6.2h-6.23zM1353.98 275.5h6.23v6.2h-6.23zM1367.25 275.5h6.23v6.2h-6.23zM1380.52 275.5h6.23v6.2h-6.23zM1393.78 275.5h6.23v6.2h-6.23zM1320.82 282.1h6.23v6.2h-6.23zM1334.08 282.1h6.23v6.2h-6.23zM1347.35 282.1h6.23v6.2h-6.23zM1360.62 282.1h6.23v6.2h-6.23zM1373.88 282.1h6.23v6.2h-6.23zM1387.15 282.1h6.23v6.2h-6.23zM1400.41 282.1h6.23v6.2h-6.23zM1327.45 288.7h6.23v6.2h-6.23zM1340.72 288.7h6.23v6.2h-6.23zM1353.98 288.7h6.23v6.2h-6.23zM1367.25 288.7h6.23v6.2h-6.23zM1380.52 288.7h6.23v6.2h-6.23zM1393.78 288.7h6.23v6.2h-6.23zM1320.82 295.3h6.23v6.2h-6.23zM1334.08 295.3h6.23v6.2h-6.23zM1347.35 295.3h6.23v6.2h-6.23zM1360.62 295.3h6.23v6.2h-6.23zM1373.88 295.3h6.23v6.2h-6.23zM1387.15 295.3h6.23v6.2h-6.23zM1400.41 295.3h6.23v6.2h-6.23zM1327.45 301.9h6.23v6.2h-6.23zM1340.72 301.9h6.23v6.2h-6.23zM1353.98 301.9h6.23v6.2h-6.23zM1367.25 301.9h6.23v6.2h-6.23zM1380.52 301.9h6.23v6.2h-6.23zM1393.78 301.9h6.23v6.2h-6.23zM1320.82 308.5h6.23v6.2h-6.23zM1334.08 308.5h6.23v6.2h-6.23zM1347.35 308.5h6.23v6.2h-6.23zM1360.62 308.5h6.23v6.2h-6.23zM1373.88 308.5h6.23v6.2h-6.23zM1387.15 308.5h6.23v6.2h-6.23zM1400.41 308.5h6.23v6.2h-6.23zM1327.45 315.1h6.23v6.2h-6.23zM1340.72 315.1h6.23v6.2h-6.23zM1353.98 315.1h6.23v6.2h-6.23zM1367.25 315.1h6.23v6.2h-6.23zM1380.52 315.1h6.23v6.2h-6.23zM1393.78 315.1h6.23v6.2h-6.23zM1320.82 321.7h6.23v6.2h-6.23zM1334.08 321.7h6.23v6.2h-6.23zM1347.35 321.7h6.23v6.2h-6.23zM1360.62 321.7h6.23v6.2h-6.23zM1373.88 321.7h6.23v6.2h-6.23zM1387.15 321.7h6.23v6.2h-6.23zM1400.41 321.7h6.23v6.2h-6.23zM1327.45 328.3h6.23v6.2h-6.23zM1340.72 328.3h6.23v6.2h-6.23zM1353.98 328.3h6.23v6.2h-6.23zM1367.25 328.3h6.23v6.2h-6.23zM1380.52 328.3h6.23v6.2h-6.23zM1393.78 328.3h6.23v6.2h-6.23zM1320.82 334.9h6.23v6.2h-6.23zM1334.08 334.9h6.23v6.2h-6.23zM1347.35 334.9h6.23v6.2h-6.23zM1360.62 334.9h6.23v6.2h-6.23zM1373.88 334.9h6.23v6.2h-6.23zM1387.15 334.9h6.23v6.2h-6.23zM1400.41 334.9h6.23v6.2h-6.23zM1327.45 341.5h6.23v6.2h-6.23zM1340.72 341.5h6.23v6.2h-6.23zM1353.98 341.5h6.23v6.2h-6.23zM1367.25 341.5h6.23v6.2h-6.23zM1380.52 341.5h6.23v6.2h-6.23zM1393.78 341.5h6.23v6.2h-6.23zM1320.82 348.1h6.23v6.2h-6.23zM1334.08 348.1h6.23v6.2h-6.23zM1347.35 348.1h6.23v6.2h-6.23zM1360.62 348.1h6.23v6.2h-6.23zM1373.88 348.1h6.23v6.2h-6.23zM1387.15 348.1h6.23v6.2h-6.23zM1400.41 348.1h6.23v6.2h-6.23zM1327.45 354.7h6.23v6.2h-6.23zM1340.72 354.7h6.23v6.2h-6.23zM1353.98 354.7h6.23v6.2h-6.23zM1367.25 354.7h6.23v6.2h-6.23zM1380.52 354.7h6.23v6.2h-6.23zM1393.78 354.7h6.23v6.2h-6.23zM1320.82 361.3h6.23v6.2h-6.23zM1334.08 361.3h6.23v6.2h-6.23zM1347.35 361.3h6.23v6.2h-6.23zM1360.62 361.3h6.23v6.2h-6.23zM1373.88 361.3h6.23v6.2h-6.23zM1387.15 361.3h6.23v6.2h-6.23zM1400.41 361.3h6.23v6.2h-6.23zM1327.45 367.9h6.23v6.2h-6.23zM1340.72 367.9h6.23v6.2h-6.23zM1353.98 367.9h6.23v6.2h-6.23zM1367.25 367.9h6.23v6.2h-6.23zM1380.52 367.9h6.23v6.2h-6.23zM1393.78 367.9h6.23v6.2h-6.23zM1320.82 374.5h6.23v6.2h-6.23zM1334.08 374.5h6.23v6.2h-6.23zM1347.35 374.5h6.23v6.2h-6.23zM1360.62 374.5h6.23v6.2h-6.23zM1373.88 374.5h6.23v6.2h-6.23zM1387.15 374.5h6.23v6.2h-6.23zM1400.41 374.5h6.23v6.2h-6.23zM1327.45 381.1h6.23v6.2h-6.23zM1340.72 381.1h6.23v6.2h-6.23zM1353.98 381.1h6.23v6.2h-6.23zM1367.25 381.1h6.23v6.2h-6.23zM1380.52 381.1h6.23v6.2h-6.23zM1393.78 381.1h6.23v6.2h-6.23z"/></svg>
<path class="bo" style="stroke-width:2.9" d="M1333.55 376.7V168.05H1395.15V376.7"/>
<path class="er" d="M1460.95 149V130"/>
<path class="ca" d="M1445 130H1476.9"/>
<rect x="1429.9" y="149.3" width="62.1" height="227.4" fill="#fff"/>
<svg x="1429.9" y="149.3" width="62.1" height="227.4" viewBox="1429.9 149.3 62.1 227.4" overflow="hidden"><path class="dl" d="M1423.9 56.66L1498 125.97M1423.9 73.26L1498 142.57M1423.9 89.86L1498 159.17M1423.9 106.46L1498 175.77M1423.9 123.06L1498 192.37M1423.9 139.66L1498 208.97M1423.9 156.26L1498 225.57M1423.9 172.86L1498 242.17M1423.9 189.46L1498 258.77M1423.9 206.06L1498 275.37M1423.9 222.66L1498 291.97M1423.9 239.26L1498 308.57M1423.9 255.86L1498 325.17M1423.9 272.46L1498 341.77M1423.9 289.06L1498 358.37M1423.9 305.66L1498 374.97M1423.9 322.26L1498 391.57M1423.9 338.86L1498 408.17M1423.9 355.46L1498 424.77M1423.9 372.06L1498 441.37"/></svg>
<path class="bo" style="stroke-width:2.9" d="M1430.05 376.7V149.45H1491.85V376.7"/>
<path class="ax" d="M1203.9 13.35V378.15"/>
<path class="axx" d="M1194.5 376.7H1526.5"/>
<text class="tk" transform="translate(1190.3 23.6) scale(1 1.08)">0.6</text>
<text class="tk" transform="translate(1190.3 144.17) scale(1 1.08)">0.4</text>
<text class="tk" transform="translate(1190.3 264.73) scale(1 1.08)">0.2</text>
<text class="tk" transform="translate(1190.3 385.3) scale(1 1.08)">0.0</text>
<path class="ti" d="M1194 15H1203.9M1194 135.57H1203.9M1194 256.13H1203.9"/>
<path class="tx" d="M1268.1 376.7V386.4M1364.5 376.7V386.4M1460.7 376.7V386.4"/>
<text class="xl" transform="translate(1276.5 408.1) scale(1 1) rotate(-45)">CON</text>
<text class="xl" transform="translate(1372.9 408.1) scale(1 1) rotate(-45)">ECON</text>
<text class="xl" transform="translate(1469.1 408.1) scale(1 1) rotate(-45)">EDMY</text>
<text class="yl" style="font-size:28.4px" transform="translate(1141.5 194.65) scale(1 1) rotate(-90)">Triglyceride (mmol / L)</text>
</g>
<g id="p4">
<path class="er" d="M157.15 680.6V650"/>
<path class="ca" d="M141.35 650H172.95"/>
<rect x="126.8" y="680.9" width="60.7" height="254.7" fill="#fff"/>
<svg x="126.8" y="680.9" width="60.7" height="254.7" viewBox="126.8 680.9 60.7 254.7" overflow="hidden"><path class="hl" d="M126.8 690.7H187.5M126.8 700.73H187.5M126.8 710.76H187.5M126.8 720.79H187.5M126.8 730.82H187.5M126.8 740.85H187.5M126.8 750.88H187.5M126.8 760.91H187.5M126.8 770.94H187.5M126.8 780.97H187.5M126.8 791H187.5M126.8 801.03H187.5M126.8 811.06H187.5M126.8 821.09H187.5M126.8 831.12H187.5M126.8 841.15H187.5M126.8 851.18H187.5M126.8 861.21H187.5M126.8 871.24H187.5M126.8 881.27H187.5M126.8 891.3H187.5M126.8 901.33H187.5M126.8 911.36H187.5M126.8 921.39H187.5M126.8 931.42H187.5"/></svg>
<path class="bo" d="M126.8 935.6V680.9H187.5V935.6"/>
<path class="er" d="M251.55 649.9V625.4"/>
<path class="ca" d="M235.75 625.4H267.35"/>
<rect x="220.8" y="650.2" width="61.5" height="285.4" fill="#fff"/>
<svg x="220.8" y="650.2" width="61.5" height="285.4" viewBox="220.8 650.2 61.5 285.4" overflow="hidden"><path class="ck" d="M215.4 638.7h6.2v6.2h-6.2zM228.6 638.7h6.2v6.2h-6.2zM241.8 638.7h6.2v6.2h-6.2zM255 638.7h6.2v6.2h-6.2zM268.2 638.7h6.2v6.2h-6.2zM281.4 638.7h6.2v6.2h-6.2zM208.8 645.3h6.2v6.2h-6.2zM222 645.3h6.2v6.2h-6.2zM235.2 645.3h6.2v6.2h-6.2zM248.4 645.3h6.2v6.2h-6.2zM261.6 645.3h6.2v6.2h-6.2zM274.8 645.3h6.2v6.2h-6.2zM288 645.3h6.2v6.2h-6.2zM215.4 651.9h6.2v6.2h-6.2zM228.6 651.9h6.2v6.2h-6.2zM241.8 651.9h6.2v6.2h-6.2zM255 651.9h6.2v6.2h-6.2zM268.2 651.9h6.2v6.2h-6.2zM281.4 651.9h6.2v6.2h-6.2zM208.8 658.5h6.2v6.2h-6.2zM222 658.5h6.2v6.2h-6.2zM235.2 658.5h6.2v6.2h-6.2zM248.4 658.5h6.2v6.2h-6.2zM261.6 658.5h6.2v6.2h-6.2zM274.8 658.5h6.2v6.2h-6.2zM288 658.5h6.2v6.2h-6.2zM215.4 665.1h6.2v6.2h-6.2zM228.6 665.1h6.2v6.2h-6.2zM241.8 665.1h6.2v6.2h-6.2zM255 665.1h6.2v6.2h-6.2zM268.2 665.1h6.2v6.2h-6.2zM281.4 665.1h6.2v6.2h-6.2zM208.8 671.7h6.2v6.2h-6.2zM222 671.7h6.2v6.2h-6.2zM235.2 671.7h6.2v6.2h-6.2zM248.4 671.7h6.2v6.2h-6.2zM261.6 671.7h6.2v6.2h-6.2zM274.8 671.7h6.2v6.2h-6.2zM288 671.7h6.2v6.2h-6.2zM215.4 678.3h6.2v6.2h-6.2zM228.6 678.3h6.2v6.2h-6.2zM241.8 678.3h6.2v6.2h-6.2zM255 678.3h6.2v6.2h-6.2zM268.2 678.3h6.2v6.2h-6.2zM281.4 678.3h6.2v6.2h-6.2zM208.8 684.9h6.2v6.2h-6.2zM222 684.9h6.2v6.2h-6.2zM235.2 684.9h6.2v6.2h-6.2zM248.4 684.9h6.2v6.2h-6.2zM261.6 684.9h6.2v6.2h-6.2zM274.8 684.9h6.2v6.2h-6.2zM288 684.9h6.2v6.2h-6.2zM215.4 691.5h6.2v6.2h-6.2zM228.6 691.5h6.2v6.2h-6.2zM241.8 691.5h6.2v6.2h-6.2zM255 691.5h6.2v6.2h-6.2zM268.2 691.5h6.2v6.2h-6.2zM281.4 691.5h6.2v6.2h-6.2zM208.8 698.1h6.2v6.2h-6.2zM222 698.1h6.2v6.2h-6.2zM235.2 698.1h6.2v6.2h-6.2zM248.4 698.1h6.2v6.2h-6.2zM261.6 698.1h6.2v6.2h-6.2zM274.8 698.1h6.2v6.2h-6.2zM288 698.1h6.2v6.2h-6.2zM215.4 704.7h6.2v6.2h-6.2zM228.6 704.7h6.2v6.2h-6.2zM241.8 704.7h6.2v6.2h-6.2zM255 704.7h6.2v6.2h-6.2zM268.2 704.7h6.2v6.2h-6.2zM281.4 704.7h6.2v6.2h-6.2zM208.8 711.3h6.2v6.2h-6.2zM222 711.3h6.2v6.2h-6.2zM235.2 711.3h6.2v6.2h-6.2zM248.4 711.3h6.2v6.2h-6.2zM261.6 711.3h6.2v6.2h-6.2zM274.8 711.3h6.2v6.2h-6.2zM288 711.3h6.2v6.2h-6.2zM215.4 717.9h6.2v6.2h-6.2zM228.6 717.9h6.2v6.2h-6.2zM241.8 717.9h6.2v6.2h-6.2zM255 717.9h6.2v6.2h-6.2zM268.2 717.9h6.2v6.2h-6.2zM281.4 717.9h6.2v6.2h-6.2zM208.8 724.5h6.2v6.2h-6.2zM222 724.5h6.2v6.2h-6.2zM235.2 724.5h6.2v6.2h-6.2zM248.4 724.5h6.2v6.2h-6.2zM261.6 724.5h6.2v6.2h-6.2zM274.8 724.5h6.2v6.2h-6.2zM288 724.5h6.2v6.2h-6.2zM215.4 731.1h6.2v6.2h-6.2zM228.6 731.1h6.2v6.2h-6.2zM241.8 731.1h6.2v6.2h-6.2zM255 731.1h6.2v6.2h-6.2zM268.2 731.1h6.2v6.2h-6.2zM281.4 731.1h6.2v6.2h-6.2zM208.8 737.7h6.2v6.2h-6.2zM222 737.7h6.2v6.2h-6.2zM235.2 737.7h6.2v6.2h-6.2zM248.4 737.7h6.2v6.2h-6.2zM261.6 737.7h6.2v6.2h-6.2zM274.8 737.7h6.2v6.2h-6.2zM288 737.7h6.2v6.2h-6.2zM215.4 744.3h6.2v6.2h-6.2zM228.6 744.3h6.2v6.2h-6.2zM241.8 744.3h6.2v6.2h-6.2zM255 744.3h6.2v6.2h-6.2zM268.2 744.3h6.2v6.2h-6.2zM281.4 744.3h6.2v6.2h-6.2zM208.8 750.9h6.2v6.2h-6.2zM222 750.9h6.2v6.2h-6.2zM235.2 750.9h6.2v6.2h-6.2zM248.4 750.9h6.2v6.2h-6.2zM261.6 750.9h6.2v6.2h-6.2zM274.8 750.9h6.2v6.2h-6.2zM288 750.9h6.2v6.2h-6.2zM215.4 757.5h6.2v6.2h-6.2zM228.6 757.5h6.2v6.2h-6.2zM241.8 757.5h6.2v6.2h-6.2zM255 757.5h6.2v6.2h-6.2zM268.2 757.5h6.2v6.2h-6.2zM281.4 757.5h6.2v6.2h-6.2zM208.8 764.1h6.2v6.2h-6.2zM222 764.1h6.2v6.2h-6.2zM235.2 764.1h6.2v6.2h-6.2zM248.4 764.1h6.2v6.2h-6.2zM261.6 764.1h6.2v6.2h-6.2zM274.8 764.1h6.2v6.2h-6.2zM288 764.1h6.2v6.2h-6.2zM215.4 770.7h6.2v6.2h-6.2zM228.6 770.7h6.2v6.2h-6.2zM241.8 770.7h6.2v6.2h-6.2zM255 770.7h6.2v6.2h-6.2zM268.2 770.7h6.2v6.2h-6.2zM281.4 770.7h6.2v6.2h-6.2zM208.8 777.3h6.2v6.2h-6.2zM222 777.3h6.2v6.2h-6.2zM235.2 777.3h6.2v6.2h-6.2zM248.4 777.3h6.2v6.2h-6.2zM261.6 777.3h6.2v6.2h-6.2zM274.8 777.3h6.2v6.2h-6.2zM288 777.3h6.2v6.2h-6.2zM215.4 783.9h6.2v6.2h-6.2zM228.6 783.9h6.2v6.2h-6.2zM241.8 783.9h6.2v6.2h-6.2zM255 783.9h6.2v6.2h-6.2zM268.2 783.9h6.2v6.2h-6.2zM281.4 783.9h6.2v6.2h-6.2zM208.8 790.5h6.2v6.2h-6.2zM222 790.5h6.2v6.2h-6.2zM235.2 790.5h6.2v6.2h-6.2zM248.4 790.5h6.2v6.2h-6.2zM261.6 790.5h6.2v6.2h-6.2zM274.8 790.5h6.2v6.2h-6.2zM288 790.5h6.2v6.2h-6.2zM215.4 797.1h6.2v6.2h-6.2zM228.6 797.1h6.2v6.2h-6.2zM241.8 797.1h6.2v6.2h-6.2zM255 797.1h6.2v6.2h-6.2zM268.2 797.1h6.2v6.2h-6.2zM281.4 797.1h6.2v6.2h-6.2zM208.8 803.7h6.2v6.2h-6.2zM222 803.7h6.2v6.2h-6.2zM235.2 803.7h6.2v6.2h-6.2zM248.4 803.7h6.2v6.2h-6.2zM261.6 803.7h6.2v6.2h-6.2zM274.8 803.7h6.2v6.2h-6.2zM288 803.7h6.2v6.2h-6.2zM215.4 810.3h6.2v6.2h-6.2zM228.6 810.3h6.2v6.2h-6.2zM241.8 810.3h6.2v6.2h-6.2zM255 810.3h6.2v6.2h-6.2zM268.2 810.3h6.2v6.2h-6.2zM281.4 810.3h6.2v6.2h-6.2zM208.8 816.9h6.2v6.2h-6.2zM222 816.9h6.2v6.2h-6.2zM235.2 816.9h6.2v6.2h-6.2zM248.4 816.9h6.2v6.2h-6.2zM261.6 816.9h6.2v6.2h-6.2zM274.8 816.9h6.2v6.2h-6.2zM288 816.9h6.2v6.2h-6.2zM215.4 823.5h6.2v6.2h-6.2zM228.6 823.5h6.2v6.2h-6.2zM241.8 823.5h6.2v6.2h-6.2zM255 823.5h6.2v6.2h-6.2zM268.2 823.5h6.2v6.2h-6.2zM281.4 823.5h6.2v6.2h-6.2zM208.8 830.1h6.2v6.2h-6.2zM222 830.1h6.2v6.2h-6.2zM235.2 830.1h6.2v6.2h-6.2zM248.4 830.1h6.2v6.2h-6.2zM261.6 830.1h6.2v6.2h-6.2zM274.8 830.1h6.2v6.2h-6.2zM288 830.1h6.2v6.2h-6.2zM215.4 836.7h6.2v6.2h-6.2zM228.6 836.7h6.2v6.2h-6.2zM241.8 836.7h6.2v6.2h-6.2zM255 836.7h6.2v6.2h-6.2zM268.2 836.7h6.2v6.2h-6.2zM281.4 836.7h6.2v6.2h-6.2zM208.8 843.3h6.2v6.2h-6.2zM222 843.3h6.2v6.2h-6.2zM235.2 843.3h6.2v6.2h-6.2zM248.4 843.3h6.2v6.2h-6.2zM261.6 843.3h6.2v6.2h-6.2zM274.8 843.3h6.2v6.2h-6.2zM288 843.3h6.2v6.2h-6.2zM215.4 849.9h6.2v6.2h-6.2zM228.6 849.9h6.2v6.2h-6.2zM241.8 849.9h6.2v6.2h-6.2zM255 849.9h6.2v6.2h-6.2zM268.2 849.9h6.2v6.2h-6.2zM281.4 849.9h6.2v6.2h-6.2zM208.8 856.5h6.2v6.2h-6.2zM222 856.5h6.2v6.2h-6.2zM235.2 856.5h6.2v6.2h-6.2zM248.4 856.5h6.2v6.2h-6.2zM261.6 856.5h6.2v6.2h-6.2zM274.8 856.5h6.2v6.2h-6.2zM288 856.5h6.2v6.2h-6.2zM215.4 863.1h6.2v6.2h-6.2zM228.6 863.1h6.2v6.2h-6.2zM241.8 863.1h6.2v6.2h-6.2zM255 863.1h6.2v6.2h-6.2zM268.2 863.1h6.2v6.2h-6.2zM281.4 863.1h6.2v6.2h-6.2zM208.8 869.7h6.2v6.2h-6.2zM222 869.7h6.2v6.2h-6.2zM235.2 869.7h6.2v6.2h-6.2zM248.4 869.7h6.2v6.2h-6.2zM261.6 869.7h6.2v6.2h-6.2zM274.8 869.7h6.2v6.2h-6.2zM288 869.7h6.2v6.2h-6.2zM215.4 876.3h6.2v6.2h-6.2zM228.6 876.3h6.2v6.2h-6.2zM241.8 876.3h6.2v6.2h-6.2zM255 876.3h6.2v6.2h-6.2zM268.2 876.3h6.2v6.2h-6.2zM281.4 876.3h6.2v6.2h-6.2zM208.8 882.9h6.2v6.2h-6.2zM222 882.9h6.2v6.2h-6.2zM235.2 882.9h6.2v6.2h-6.2zM248.4 882.9h6.2v6.2h-6.2zM261.6 882.9h6.2v6.2h-6.2zM274.8 882.9h6.2v6.2h-6.2zM288 882.9h6.2v6.2h-6.2zM215.4 889.5h6.2v6.2h-6.2zM228.6 889.5h6.2v6.2h-6.2zM241.8 889.5h6.2v6.2h-6.2zM255 889.5h6.2v6.2h-6.2zM268.2 889.5h6.2v6.2h-6.2zM281.4 889.5h6.2v6.2h-6.2zM208.8 896.1h6.2v6.2h-6.2zM222 896.1h6.2v6.2h-6.2zM235.2 896.1h6.2v6.2h-6.2zM248.4 896.1h6.2v6.2h-6.2zM261.6 896.1h6.2v6.2h-6.2zM274.8 896.1h6.2v6.2h-6.2zM288 896.1h6.2v6.2h-6.2zM215.4 902.7h6.2v6.2h-6.2zM228.6 902.7h6.2v6.2h-6.2zM241.8 902.7h6.2v6.2h-6.2zM255 902.7h6.2v6.2h-6.2zM268.2 902.7h6.2v6.2h-6.2zM281.4 902.7h6.2v6.2h-6.2zM208.8 909.3h6.2v6.2h-6.2zM222 909.3h6.2v6.2h-6.2zM235.2 909.3h6.2v6.2h-6.2zM248.4 909.3h6.2v6.2h-6.2zM261.6 909.3h6.2v6.2h-6.2zM274.8 909.3h6.2v6.2h-6.2zM288 909.3h6.2v6.2h-6.2zM215.4 915.9h6.2v6.2h-6.2zM228.6 915.9h6.2v6.2h-6.2zM241.8 915.9h6.2v6.2h-6.2zM255 915.9h6.2v6.2h-6.2zM268.2 915.9h6.2v6.2h-6.2zM281.4 915.9h6.2v6.2h-6.2zM208.8 922.5h6.2v6.2h-6.2zM222 922.5h6.2v6.2h-6.2zM235.2 922.5h6.2v6.2h-6.2zM248.4 922.5h6.2v6.2h-6.2zM261.6 922.5h6.2v6.2h-6.2zM274.8 922.5h6.2v6.2h-6.2zM288 922.5h6.2v6.2h-6.2zM215.4 929.1h6.2v6.2h-6.2zM228.6 929.1h6.2v6.2h-6.2zM241.8 929.1h6.2v6.2h-6.2zM255 929.1h6.2v6.2h-6.2zM268.2 929.1h6.2v6.2h-6.2zM281.4 929.1h6.2v6.2h-6.2zM208.8 935.7h6.2v6.2h-6.2zM222 935.7h6.2v6.2h-6.2zM235.2 935.7h6.2v6.2h-6.2zM248.4 935.7h6.2v6.2h-6.2zM261.6 935.7h6.2v6.2h-6.2zM274.8 935.7h6.2v6.2h-6.2zM288 935.7h6.2v6.2h-6.2zM215.4 942.3h6.2v6.2h-6.2zM228.6 942.3h6.2v6.2h-6.2zM241.8 942.3h6.2v6.2h-6.2zM255 942.3h6.2v6.2h-6.2zM268.2 942.3h6.2v6.2h-6.2zM281.4 942.3h6.2v6.2h-6.2z"/></svg>
<path class="bo" style="stroke-width:2.9" d="M220.95 935.6V650.35H282.15V935.6"/>
<path class="er" d="M346.55 694.2V669.5"/>
<path class="ca" d="M330.75 669.5H362.35"/>
<rect x="316" y="694.5" width="61.1" height="241.1" fill="#fff"/>
<svg x="316" y="694.5" width="61.1" height="241.1" viewBox="316 694.5 61.1 241.1" overflow="hidden"><path class="dl" d="M310 613.54L383.1 682.25M310 630.14L383.1 698.85M310 646.74L383.1 715.45M310 663.34L383.1 732.05M310 679.94L383.1 748.65M310 696.54L383.1 765.25M310 713.14L383.1 781.85M310 729.74L383.1 798.45M310 746.34L383.1 815.05M310 762.94L383.1 831.65M310 779.54L383.1 848.25M310 796.14L383.1 864.85M310 812.74L383.1 881.45M310 829.34L383.1 898.05M310 845.94L383.1 914.65M310 862.54L383.1 931.25M310 879.14L383.1 947.85M310 895.74L383.1 964.45M310 912.34L383.1 981.05M310 928.94L383.1 997.65"/></svg>
<path class="bo" style="stroke-width:2.9" d="M316.15 935.6V694.65H376.95V935.6"/>
<path class="ax" d="M94.5 571.8V937.05"/>
<path class="axx" d="M85 935.6H411.5"/>
<text class="tk" transform="translate(80.9 582.05) scale(1 1.08)">200</text>
<text class="tk" transform="translate(80.9 672.59) scale(1 1.08)">150</text>
<text class="tk" transform="translate(80.9 763.13) scale(1 1.08)">100</text>
<text class="tk" transform="translate(80.9 853.66) scale(1 1.08)">50</text>
<text class="tk" transform="translate(80.9 944.2) scale(1 1.08)">0</text>
<path class="ti" d="M84.6 573.45H94.5M84.6 663.99H94.5M84.6 754.53H94.5M84.6 845.06H94.5"/>
<path class="tx" d="M157.3 935.6V945.3M251.6 935.6V945.3M346.3 935.6V945.3"/>
<text class="xl" transform="translate(165.7 967) scale(1 1) rotate(-45)">CON</text>
<text class="xl" transform="translate(260 967) scale(1 1) rotate(-45)">ECON</text>
<text class="xl" transform="translate(354.7 967) scale(1 1) rotate(-45)">EDMY</text>
<text class="yl" transform="translate(24.8 754.13) scale(1 1) rotate(-90)">AKP (U / L)</text>
</g>
<g id="p5">
<path class="er" d="M696.8 652.2V621.2"/>
<path class="ca" d="M680.45 621.2H713.15"/>
<rect x="665.7" y="652.5" width="62.2" height="281.3" fill="#fff"/>
<svg x="665.7" y="652.5" width="62.2" height="281.3" viewBox="665.7 652.5 62.2 281.3" overflow="hidden"><path class="hl" d="M665.7 660.7H727.9M665.7 670.73H727.9M665.7 680.76H727.9M665.7 690.79H727.9M665.7 700.82H727.9M665.7 710.85H727.9M665.7 720.88H727.9M665.7 730.91H727.9M665.7 740.94H727.9M665.7 750.97H727.9M665.7 761H727.9M665.7 771.03H727.9M665.7 781.06H727.9M665.7 791.09H727.9M665.7 801.12H727.9M665.7 811.15H727.9M665.7 821.18H727.9M665.7 831.21H727.9M665.7 841.24H727.9M665.7 851.27H727.9M665.7 861.3H727.9M665.7 871.33H727.9M665.7 881.36H727.9M665.7 891.39H727.9M665.7 901.42H727.9M665.7 911.45H727.9M665.7 921.48H727.9M665.7 931.51H727.9"/></svg>
<path class="bo" d="M665.7 933.8V652.5H727.9V933.8"/>
<path class="er" d="M793.9 678.5V655.1"/>
<path class="ca" d="M777.55 655.1H810.25"/>
<rect x="762.5" y="678.8" width="62.8" height="255" fill="#fff"/>
<svg x="762.5" y="678.8" width="62.8" height="255" viewBox="762.5 678.8 62.8 255" overflow="hidden"><path class="ck" d="M757.08 667.3h6.29v6.2h-6.29zM770.47 667.3h6.29v6.2h-6.29zM783.85 667.3h6.29v6.2h-6.29zM797.24 667.3h6.29v6.2h-6.29zM810.62 667.3h6.29v6.2h-6.29zM824.01 667.3h6.29v6.2h-6.29zM750.39 673.9h6.29v6.2h-6.29zM763.78 673.9h6.29v6.2h-6.29zM777.16 673.9h6.29v6.2h-6.29zM790.55 673.9h6.29v6.2h-6.29zM803.93 673.9h6.29v6.2h-6.29zM817.32 673.9h6.29v6.2h-6.29zM830.7 673.9h6.29v6.2h-6.29zM757.08 680.5h6.29v6.2h-6.29zM770.47 680.5h6.29v6.2h-6.29zM783.85 680.5h6.29v6.2h-6.29zM797.24 680.5h6.29v6.2h-6.29zM810.62 680.5h6.29v6.2h-6.29zM824.01 680.5h6.29v6.2h-6.29zM750.39 687.1h6.29v6.2h-6.29zM763.78 687.1h6.29v6.2h-6.29zM777.16 687.1h6.29v6.2h-6.29zM790.55 687.1h6.29v6.2h-6.29zM803.93 687.1h6.29v6.2h-6.29zM817.32 687.1h6.29v6.2h-6.29zM830.7 687.1h6.29v6.2h-6.29zM757.08 693.7h6.29v6.2h-6.29zM770.47 693.7h6.29v6.2h-6.29zM783.85 693.7h6.29v6.2h-6.29zM797.24 693.7h6.29v6.2h-6.29zM810.62 693.7h6.29v6.2h-6.29zM824.01 693.7h6.29v6.2h-6.29zM750.39 700.3h6.29v6.2h-6.29zM763.78 700.3h6.29v6.2h-6.29zM777.16 700.3h6.29v6.2h-6.29zM790.55 700.3h6.29v6.2h-6.29zM803.93 700.3h6.29v6.2h-6.29zM817.32 700.3h6.29v6.2h-6.29zM830.7 700.3h6.29v6.2h-6.29zM757.08 706.9h6.29v6.2h-6.29zM770.47 706.9h6.29v6.2h-6.29zM783.85 706.9h6.29v6.2h-6.29zM797.24 706.9h6.29v6.2h-6.29zM810.62 706.9h6.29v6.2h-6.29zM824.01 706.9h6.29v6.2h-6.29zM750.39 713.5h6.29v6.2h-6.29zM763.78 713.5h6.29v6.2h-6.29zM777.16 713.5h6.29v6.2h-6.29zM790.55 713.5h6.29v6.2h-6.29zM803.93 713.5h6.29v6.2h-6.29zM817.32 713.5h6.29v6.2h-6.29zM830.7 713.5h6.29v6.2h-6.29zM757.08 720.1h6.29v6.2h-6.29zM770.47 720.1h6.29v6.2h-6.29zM783.85 720.1h6.29v6.2h-6.29zM797.24 720.1h6.29v6.2h-6.29zM810.62 720.1h6.29v6.2h-6.29zM824.01 720.1h6.29v6.2h-6.29zM750.39 726.7h6.29v6.2h-6.29zM763.78 726.7h6.29v6.2h-6.29zM777.16 726.7h6.29v6.2h-6.29zM790.55 726.7h6.29v6.2h-6.29zM803.93 726.7h6.29v6.2h-6.29zM817.32 726.7h6.29v6.2h-6.29zM830.7 726.7h6.29v6.2h-6.29zM757.08 733.3h6.29v6.2h-6.29zM770.47 733.3h6.29v6.2h-6.29zM783.85 733.3h6.29v6.2h-6.29zM797.24 733.3h6.29v6.2h-6.29zM810.62 733.3h6.29v6.2h-6.29zM824.01 733.3h6.29v6.2h-6.29zM750.39 739.9h6.29v6.2h-6.29zM763.78 739.9h6.29v6.2h-6.29zM777.16 739.9h6.29v6.2h-6.29zM790.55 739.9h6.29v6.2h-6.29zM803.93 739.9h6.29v6.2h-6.29zM817.32 739.9h6.29v6.2h-6.29zM830.7 739.9h6.29v6.2h-6.29zM757.08 746.5h6.29v6.2h-6.29zM770.47 746.5h6.29v6.2h-6.29zM783.85 746.5h6.29v6.2h-6.29zM797.24 746.5h6.29v6.2h-6.29zM810.62 746.5h6.29v6.2h-6.29zM824.01 746.5h6.29v6.2h-6.29zM750.39 753.1h6.29v6.2h-6.29zM763.78 753.1h6.29v6.2h-6.29zM777.16 753.1h6.29v6.2h-6.29zM790.55 753.1h6.29v6.2h-6.29zM803.93 753.1h6.29v6.2h-6.29zM817.32 753.1h6.29v6.2h-6.29zM830.7 753.1h6.29v6.2h-6.29zM757.08 759.7h6.29v6.2h-6.29zM770.47 759.7h6.29v6.2h-6.29zM783.85 759.7h6.29v6.2h-6.29zM797.24 759.7h6.29v6.2h-6.29zM810.62 759.7h6.29v6.2h-6.29zM824.01 759.7h6.29v6.2h-6.29zM750.39 766.3h6.29v6.2h-6.29zM763.78 766.3h6.29v6.2h-6.29zM777.16 766.3h6.29v6.2h-6.29zM790.55 766.3h6.29v6.2h-6.29zM803.93 766.3h6.29v6.2h-6.29zM817.32 766.3h6.29v6.2h-6.29zM830.7 766.3h6.29v6.2h-6.29zM757.08 772.9h6.29v6.2h-6.29zM770.47 772.9h6.29v6.2h-6.29zM783.85 772.9h6.29v6.2h-6.29zM797.24 772.9h6.29v6.2h-6.29zM810.62 772.9h6.29v6.2h-6.29zM824.01 772.9h6.29v6.2h-6.29zM750.39 779.5h6.29v6.2h-6.29zM763.78 779.5h6.29v6.2h-6.29zM777.16 779.5h6.29v6.2h-6.29zM790.55 779.5h6.29v6.2h-6.29zM803.93 779.5h6.29v6.2h-6.29zM817.32 779.5h6.29v6.2h-6.29zM830.7 779.5h6.29v6.2h-6.29zM757.08 786.1h6.29v6.2h-6.29zM770.47 786.1h6.29v6.2h-6.29zM783.85 786.1h6.29v6.2h-6.29zM797.24 786.1h6.29v6.2h-6.29zM810.62 786.1h6.29v6.2h-6.29zM824.01 786.1h6.29v6.2h-6.29zM750.39 792.7h6.29v6.2h-6.29zM763.78 792.7h6.29v6.2h-6.29zM777.16 792.7h6.29v6.2h-6.29zM790.55 792.7h6.29v6.2h-6.29zM803.93 792.7h6.29v6.2h-6.29zM817.32 792.7h6.29v6.2h-6.29zM830.7 792.7h6.29v6.2h-6.29zM757.08 799.3h6.29v6.2h-6.29zM770.47 799.3h6.29v6.2h-6.29zM783.85 799.3h6.29v6.2h-6.29zM797.24 799.3h6.29v6.2h-6.29zM810.62 799.3h6.29v6.2h-6.29zM824.01 799.3h6.29v6.2h-6.29zM750.39 805.9h6.29v6.2h-6.29zM763.78 805.9h6.29v6.2h-6.29zM777.16 805.9h6.29v6.2h-6.29zM790.55 805.9h6.29v6.2h-6.29zM803.93 805.9h6.29v6.2h-6.29zM817.32 805.9h6.29v6.2h-6.29zM830.7 805.9h6.29v6.2h-6.29zM757.08 812.5h6.29v6.2h-6.29zM770.47 812.5h6.29v6.2h-6.29zM783.85 812.5h6.29v6.2h-6.29zM797.24 812.5h6.29v6.2h-6.29zM810.62 812.5h6.29v6.2h-6.29zM824.01 812.5h6.29v6.2h-6.29zM750.39 819.1h6.29v6.2h-6.29zM763.78 819.1h6.29v6.2h-6.29zM777.16 819.1h6.29v6.2h-6.29zM790.55 819.1h6.29v6.2h-6.29zM803.93 819.1h6.29v6.2h-6.29zM817.32 819.1h6.29v6.2h-6.29zM830.7 819.1h6.29v6.2h-6.29zM757.08 825.7h6.29v6.2h-6.29zM770.47 825.7h6.29v6.2h-6.29zM783.85 825.7h6.29v6.2h-6.29zM797.24 825.7h6.29v6.2h-6.29zM810.62 825.7h6.29v6.2h-6.29zM824.01 825.7h6.29v6.2h-6.29zM750.39 832.3h6.29v6.2h-6.29zM763.78 832.3h6.29v6.2h-6.29zM777.16 832.3h6.29v6.2h-6.29zM790.55 832.3h6.29v6.2h-6.29zM803.93 832.3h6.29v6.2h-6.29zM817.32 832.3h6.29v6.2h-6.29zM830.7 832.3h6.29v6.2h-6.29zM757.08 838.9h6.29v6.2h-6.29zM770.47 838.9h6.29v6.2h-6.29zM783.85 838.9h6.29v6.2h-6.29zM797.24 838.9h6.29v6.2h-6.29zM810.62 838.9h6.29v6.2h-6.29zM824.01 838.9h6.29v6.2h-6.29zM750.39 845.5h6.29v6.2h-6.29zM763.78 845.5h6.29v6.2h-6.29zM777.16 845.5h6.29v6.2h-6.29zM790.55 845.5h6.29v6.2h-6.29zM803.93 845.5h6.29v6.2h-6.29zM817.32 845.5h6.29v6.2h-6.29zM830.7 845.5h6.29v6.2h-6.29zM757.08 852.1h6.29v6.2h-6.29zM770.47 852.1h6.29v6.2h-6.29zM783.85 852.1h6.29v6.2h-6.29zM797.24 852.1h6.29v6.2h-6.29zM810.62 852.1h6.29v6.2h-6.29zM824.01 852.1h6.29v6.2h-6.29zM750.39 858.7h6.29v6.2h-6.29zM763.78 858.7h6.29v6.2h-6.29zM777.16 858.7h6.29v6.2h-6.29zM790.55 858.7h6.29v6.2h-6.29zM803.93 858.7h6.29v6.2h-6.29zM817.32 858.7h6.29v6.2h-6.29zM830.7 858.7h6.29v6.2h-6.29zM757.08 865.3h6.29v6.2h-6.29zM770.47 865.3h6.29v6.2h-6.29zM783.85 865.3h6.29v6.2h-6.29zM797.24 865.3h6.29v6.2h-6.29zM810.62 865.3h6.29v6.2h-6.29zM824.01 865.3h6.29v6.2h-6.29zM750.39 871.9h6.29v6.2h-6.29zM763.78 871.9h6.29v6.2h-6.29zM777.16 871.9h6.29v6.2h-6.29zM790.55 871.9h6.29v6.2h-6.29zM803.93 871.9h6.29v6.2h-6.29zM817.32 871.9h6.29v6.2h-6.29zM830.7 871.9h6.29v6.2h-6.29zM757.08 878.5h6.29v6.2h-6.29zM770.47 878.5h6.29v6.2h-6.29zM783.85 878.5h6.29v6.2h-6.29zM797.24 878.5h6.29v6.2h-6.29zM810.62 878.5h6.29v6.2h-6.29zM824.01 878.5h6.29v6.2h-6.29zM750.39 885.1h6.29v6.2h-6.29zM763.78 885.1h6.29v6.2h-6.29zM777.16 885.1h6.29v6.2h-6.29zM790.55 885.1h6.29v6.2h-6.29zM803.93 885.1h6.29v6.2h-6.29zM817.32 885.1h6.29v6.2h-6.29zM830.7 885.1h6.29v6.2h-6.29zM757.08 891.7h6.29v6.2h-6.29zM770.47 891.7h6.29v6.2h-6.29zM783.85 891.7h6.29v6.2h-6.29zM797.24 891.7h6.29v6.2h-6.29zM810.62 891.7h6.29v6.2h-6.29zM824.01 891.7h6.29v6.2h-6.29zM750.39 898.3h6.29v6.2h-6.29zM763.78 898.3h6.29v6.2h-6.29zM777.16 898.3h6.29v6.2h-6.29zM790.55 898.3h6.29v6.2h-6.29zM803.93 898.3h6.29v6.2h-6.29zM817.32 898.3h6.29v6.2h-6.29zM830.7 898.3h6.29v6.2h-6.29zM757.08 904.9h6.29v6.2h-6.29zM770.47 904.9h6.29v6.2h-6.29zM783.85 904.9h6.29v6.2h-6.29zM797.24 904.9h6.29v6.2h-6.29zM810.62 904.9h6.29v6.2h-6.29zM824.01 904.9h6.29v6.2h-6.29zM750.39 911.5h6.29v6.2h-6.29zM763.78 911.5h6.29v6.2h-6.29zM777.16 911.5h6.29v6.2h-6.29zM790.55 911.5h6.29v6.2h-6.29zM803.93 911.5h6.29v6.2h-6.29zM817.32 911.5h6.29v6.2h-6.29zM830.7 911.5h6.29v6.2h-6.29zM757.08 918.1h6.29v6.2h-6.29zM770.47 918.1h6.29v6.2h-6.29zM783.85 918.1h6.29v6.2h-6.29zM797.24 918.1h6.29v6.2h-6.29zM810.62 918.1h6.29v6.2h-6.29zM824.01 918.1h6.29v6.2h-6.29zM750.39 924.7h6.29v6.2h-6.29zM763.78 924.7h6.29v6.2h-6.29zM777.16 924.7h6.29v6.2h-6.29zM790.55 924.7h6.29v6.2h-6.29zM803.93 924.7h6.29v6.2h-6.29zM817.32 924.7h6.29v6.2h-6.29zM830.7 924.7h6.29v6.2h-6.29zM757.08 931.3h6.29v6.2h-6.29zM770.47 931.3h6.29v6.2h-6.29zM783.85 931.3h6.29v6.2h-6.29zM797.24 931.3h6.29v6.2h-6.29zM810.62 931.3h6.29v6.2h-6.29zM824.01 931.3h6.29v6.2h-6.29zM750.39 937.9h6.29v6.2h-6.29zM763.78 937.9h6.29v6.2h-6.29zM777.16 937.9h6.29v6.2h-6.29zM790.55 937.9h6.29v6.2h-6.29zM803.93 937.9h6.29v6.2h-6.29zM817.32 937.9h6.29v6.2h-6.29zM830.7 937.9h6.29v6.2h-6.29z"/></svg>
<path class="bo" style="stroke-width:2.9" d="M762.65 933.8V678.95H825.15V933.8"/>
<path class="er" d="M892.2 630.3V595.1"/>
<path class="ca" d="M875.85 595.1H908.55"/>
<rect x="861.3" y="630.6" width="61.8" height="303.2" fill="#fff"/>
<svg x="861.3" y="630.6" width="61.8" height="303.2" viewBox="861.3 630.6 61.8 303.2" overflow="hidden"><path class="dl" d="M855.3 546.73L929.1 615.14M855.3 563.33L929.1 631.74M855.3 579.93L929.1 648.34M855.3 596.53L929.1 664.94M855.3 613.13L929.1 681.54M855.3 629.73L929.1 698.14M855.3 646.33L929.1 714.74M855.3 662.93L929.1 731.34M855.3 679.53L929.1 747.94M855.3 696.13L929.1 764.54M855.3 712.73L929.1 781.14M855.3 729.33L929.1 797.74M855.3 745.93L929.1 814.34M855.3 762.53L929.1 830.94M855.3 779.13L929.1 847.54M855.3 795.73L929.1 864.14M855.3 812.33L929.1 880.74M855.3 828.93L929.1 897.34M855.3 845.53L929.1 913.94M855.3 862.13L929.1 930.54M855.3 878.73L929.1 947.14M855.3 895.33L929.1 963.74M855.3 911.93L929.1 980.34M855.3 928.53L929.1 996.94"/></svg>
<path class="bo" style="stroke-width:2.9" d="M861.45 933.8V630.75H922.95V933.8"/>
<path class="ax" d="M631.2 570.75V935.25"/>
<path class="axx" d="M622.1 933.8H958.7"/>
<text class="tk" transform="translate(617.6 581) scale(1.01 1.08)">50</text>
<text class="tk" transform="translate(617.6 653.28) scale(1.01 1.08)">40</text>
<text class="tk" transform="translate(617.6 725.56) scale(1.01 1.08)">30</text>
<text class="tk" transform="translate(617.6 797.84) scale(1.01 1.08)">20</text>
<text class="tk" transform="translate(617.6 870.12) scale(1.01 1.08)">10</text>
<text class="tk" transform="translate(617.6 942.4) scale(1.01 1.08)">0</text>
<path class="ti" d="M621.3 572.4H631.2M621.3 644.68H631.2M621.3 716.96H631.2M621.3 789.24H631.2M621.3 861.52H631.2"/>
<path class="tx" d="M696.6 933.8V943.5M794 933.8V943.5M892 933.8V943.5"/>
<text class="xl" transform="translate(705 965.2) scale(1.01 1) rotate(-45)">CON</text>
<text class="xl" transform="translate(802.4 965.2) scale(1.01 1) rotate(-45)">ECON</text>
<text class="xl" transform="translate(900.4 965.2) scale(1.01 1) rotate(-45)">EDMY</text>
<text class="yl" transform="translate(575.2 752.7) scale(1.01 1) rotate(-90)">ALT (U / L)</text>
</g>
<g id="p6">
<path class="er" d="M1265.75 727.8V700.4"/>
<path class="ca" d="M1249.3 700.4H1282.2"/>
<rect x="1234.6" y="728.1" width="62.3" height="205.1" fill="#fff"/>
<svg x="1234.6" y="728.1" width="62.3" height="205.1" viewBox="1234.6 728.1 62.3 205.1" overflow="hidden"><path class="hl" d="M1234.6 736.9H1296.9M1234.6 746.93H1296.9M1234.6 756.96H1296.9M1234.6 766.99H1296.9M1234.6 777.02H1296.9M1234.6 787.05H1296.9M1234.6 797.08H1296.9M1234.6 807.11H1296.9M1234.6 817.14H1296.9M1234.6 827.17H1296.9M1234.6 837.2H1296.9M1234.6 847.23H1296.9M1234.6 857.26H1296.9M1234.6 867.29H1296.9M1234.6 877.32H1296.9M1234.6 887.35H1296.9M1234.6 897.38H1296.9M1234.6 907.41H1296.9M1234.6 917.44H1296.9M1234.6 927.47H1296.9"/></svg>
<path class="bo" d="M1234.6 933.2V728.1H1296.9V933.2"/>
<path class="er" d="M1363.05 699.6V675.8"/>
<path class="ca" d="M1346.6 675.8H1379.5"/>
<rect x="1331.7" y="699.9" width="62.7" height="233.3" fill="#fff"/>
<svg x="1331.7" y="699.9" width="62.7" height="233.3" viewBox="1331.7 699.9 62.7 233.3" overflow="hidden"><path class="ck" d="M1325.47 688.4h6.32v6.2h-6.32zM1338.9 688.4h6.32v6.2h-6.32zM1352.34 688.4h6.32v6.2h-6.32zM1365.78 688.4h6.32v6.2h-6.32zM1379.22 688.4h6.32v6.2h-6.32zM1392.65 688.4h6.32v6.2h-6.32zM1318.75 695h6.32v6.2h-6.32zM1332.18 695h6.32v6.2h-6.32zM1345.62 695h6.32v6.2h-6.32zM1359.06 695h6.32v6.2h-6.32zM1372.5 695h6.32v6.2h-6.32zM1385.93 695h6.32v6.2h-6.32zM1399.37 695h6.32v6.2h-6.32zM1325.47 701.6h6.32v6.2h-6.32zM1338.9 701.6h6.32v6.2h-6.32zM1352.34 701.6h6.32v6.2h-6.32zM1365.78 701.6h6.32v6.2h-6.32zM1379.22 701.6h6.32v6.2h-6.32zM1392.65 701.6h6.32v6.2h-6.32zM1318.75 708.2h6.32v6.2h-6.32zM1332.18 708.2h6.32v6.2h-6.32zM1345.62 708.2h6.32v6.2h-6.32zM1359.06 708.2h6.32v6.2h-6.32zM1372.5 708.2h6.32v6.2h-6.32zM1385.93 708.2h6.32v6.2h-6.32zM1399.37 708.2h6.32v6.2h-6.32zM1325.47 714.8h6.32v6.2h-6.32zM1338.9 714.8h6.32v6.2h-6.32zM1352.34 714.8h6.32v6.2h-6.32zM1365.78 714.8h6.32v6.2h-6.32zM1379.22 714.8h6.32v6.2h-6.32zM1392.65 714.8h6.32v6.2h-6.32zM1318.75 721.4h6.32v6.2h-6.32zM1332.18 721.4h6.32v6.2h-6.32zM1345.62 721.4h6.32v6.2h-6.32zM1359.06 721.4h6.32v6.2h-6.32zM1372.5 721.4h6.32v6.2h-6.32zM1385.93 721.4h6.32v6.2h-6.32zM1399.37 721.4h6.32v6.2h-6.32zM1325.47 728h6.32v6.2h-6.32zM1338.9 728h6.32v6.2h-6.32zM1352.34 728h6.32v6.2h-6.32zM1365.78 728h6.32v6.2h-6.32zM1379.22 728h6.32v6.2h-6.32zM1392.65 728h6.32v6.2h-6.32zM1318.75 734.6h6.32v6.2h-6.32zM1332.18 734.6h6.32v6.2h-6.32zM1345.62 734.6h6.32v6.2h-6.32zM1359.06 734.6h6.32v6.2h-6.32zM1372.5 734.6h6.32v6.2h-6.32zM1385.93 734.6h6.32v6.2h-6.32zM1399.37 734.6h6.32v6.2h-6.32zM1325.47 741.2h6.32v6.2h-6.32zM1338.9 741.2h6.32v6.2h-6.32zM1352.34 741.2h6.32v6.2h-6.32zM1365.78 741.2h6.32v6.2h-6.32zM1379.22 741.2h6.32v6.2h-6.32zM1392.65 741.2h6.32v6.2h-6.32zM1318.75 747.8h6.32v6.2h-6.32zM1332.18 747.8h6.32v6.2h-6.32zM1345.62 747.8h6.32v6.2h-6.32zM1359.06 747.8h6.32v6.2h-6.32zM1372.5 747.8h6.32v6.2h-6.32zM1385.93 747.8h6.32v6.2h-6.32zM1399.37 747.8h6.32v6.2h-6.32zM1325.47 754.4h6.32v6.2h-6.32zM1338.9 754.4h6.32v6.2h-6.32zM1352.34 754.4h6.32v6.2h-6.32zM1365.78 754.4h6.32v6.2h-6.32zM1379.22 754.4h6.32v6.2h-6.32zM1392.65 754.4h6.32v6.2h-6.32zM1318.75 761h6.32v6.2h-6.32zM1332.18 761h6.32v6.2h-6.32zM1345.62 761h6.32v6.2h-6.32zM1359.06 761h6.32v6.2h-6.32zM1372.5 761h6.32v6.2h-6.32zM1385.93 761h6.32v6.2h-6.32zM1399.37 761h6.32v6.2h-6.32zM1325.47 767.6h6.32v6.2h-6.32zM1338.9 767.6h6.32v6.2h-6.32zM1352.34 767.6h6.32v6.2h-6.32zM1365.78 767.6h6.32v6.2h-6.32zM1379.22 767.6h6.32v6.2h-6.32zM1392.65 767.6h6.32v6.2h-6.32zM1318.75 774.2h6.32v6.2h-6.32zM1332.18 774.2h6.32v6.2h-6.32zM1345.62 774.2h6.32v6.2h-6.32zM1359.06 774.2h6.32v6.2h-6.32zM1372.5 774.2h6.32v6.2h-6.32zM1385.93 774.2h6.32v6.2h-6.32zM1399.37 774.2h6.32v6.2h-6.32zM1325.47 780.8h6.32v6.2h-6.32zM1338.9 780.8h6.32v6.2h-6.32zM1352.34 780.8h6.32v6.2h-6.32zM1365.78 780.8h6.32v6.2h-6.32zM1379.22 780.8h6.32v6.2h-6.32zM1392.65 780.8h6.32v6.2h-6.32zM1318.75 787.4h6.32v6.2h-6.32zM1332.18 787.4h6.32v6.2h-6.32zM1345.62 787.4h6.32v6.2h-6.32zM1359.06 787.4h6.32v6.2h-6.32zM1372.5 787.4h6.32v6.2h-6.32zM1385.93 787.4h6.32v6.2h-6.32zM1399.37 787.4h6.32v6.2h-6.32zM1325.47 794h6.32v6.2h-6.32zM1338.9 794h6.32v6.2h-6.32zM1352.34 794h6.32v6.2h-6.32zM1365.78 794h6.32v6.2h-6.32zM1379.22 794h6.32v6.2h-6.32zM1392.65 794h6.32v6.2h-6.32zM1318.75 800.6h6.32v6.2h-6.32zM1332.18 800.6h6.32v6.2h-6.32zM1345.62 800.6h6.32v6.2h-6.32zM1359.06 800.6h6.32v6.2h-6.32zM1372.5 800.6h6.32v6.2h-6.32zM1385.93 800.6h6.32v6.2h-6.32zM1399.37 800.6h6.32v6.2h-6.32zM1325.47 807.2h6.32v6.2h-6.32zM1338.9 807.2h6.32v6.2h-6.32zM1352.34 807.2h6.32v6.2h-6.32zM1365.78 807.2h6.32v6.2h-6.32zM1379.22 807.2h6.32v6.2h-6.32zM1392.65 807.2h6.32v6.2h-6.32zM1318.75 813.8h6.32v6.2h-6.32zM1332.18 813.8h6.32v6.2h-6.32zM1345.62 813.8h6.32v6.2h-6.32zM1359.06 813.8h6.32v6.2h-6.32zM1372.5 813.8h6.32v6.2h-6.32zM1385.93 813.8h6.32v6.2h-6.32zM1399.37 813.8h6.32v6.2h-6.32zM1325.47 820.4h6.32v6.2h-6.32zM1338.9 820.4h6.32v6.2h-6.32zM1352.34 820.4h6.32v6.2h-6.32zM1365.78 820.4h6.32v6.2h-6.32zM1379.22 820.4h6.32v6.2h-6.32zM1392.65 820.4h6.32v6.2h-6.32zM1318.75 827h6.32v6.2h-6.32zM1332.18 827h6.32v6.2h-6.32zM1345.62 827h6.32v6.2h-6.32zM1359.06 827h6.32v6.2h-6.32zM1372.5 827h6.32v6.2h-6.32zM1385.93 827h6.32v6.2h-6.32zM1399.37 827h6.32v6.2h-6.32zM1325.47 833.6h6.32v6.2h-6.32zM1338.9 833.6h6.32v6.2h-6.32zM1352.34 833.6h6.32v6.2h-6.32zM1365.78 833.6h6.32v6.2h-6.32zM1379.22 833.6h6.32v6.2h-6.32zM1392.65 833.6h6.32v6.2h-6.32zM1318.75 840.2h6.32v6.2h-6.32zM1332.18 840.2h6.32v6.2h-6.32zM1345.62 840.2h6.32v6.2h-6.32zM1359.06 840.2h6.32v6.2h-6.32zM1372.5 840.2h6.32v6.2h-6.32zM1385.93 840.2h6.32v6.2h-6.32zM1399.37 840.2h6.32v6.2h-6.32zM1325.47 846.8h6.32v6.2h-6.32zM1338.9 846.8h6.32v6.2h-6.32zM1352.34 846.8h6.32v6.2h-6.32zM1365.78 846.8h6.32v6.2h-6.32zM1379.22 846.8h6.32v6.2h-6.32zM1392.65 846.8h6.32v6.2h-6.32zM1318.75 853.4h6.32v6.2h-6.32zM1332.18 853.4h6.32v6.2h-6.32zM1345.62 853.4h6.32v6.2h-6.32zM1359.06 853.4h6.32v6.2h-6.32zM1372.5 853.4h6.32v6.2h-6.32zM1385.93 853.4h6.32v6.2h-6.32zM1399.37 853.4h6.32v6.2h-6.32zM1325.47 860h6.32v6.2h-6.32zM1338.9 860h6.32v6.2h-6.32zM1352.34 860h6.32v6.2h-6.32zM1365.78 860h6.32v6.2h-6.32zM1379.22 860h6.32v6.2h-6.32zM1392.65 860h6.32v6.2h-6.32zM1318.75 866.6h6.32v6.2h-6.32zM1332.18 866.6h6.32v6.2h-6.32zM1345.62 866.6h6.32v6.2h-6.32zM1359.06 866.6h6.32v6.2h-6.32zM1372.5 866.6h6.32v6.2h-6.32zM1385.93 866.6h6.32v6.2h-6.32zM1399.37 866.6h6.32v6.2h-6.32zM1325.47 873.2h6.32v6.2h-6.32zM1338.9 873.2h6.32v6.2h-6.32zM1352.34 873.2h6.32v6.2h-6.32zM1365.78 873.2h6.32v6.2h-6.32zM1379.22 873.2h6.32v6.2h-6.32zM1392.65 873.2h6.32v6.2h-6.32zM1318.75 879.8h6.32v6.2h-6.32zM1332.18 879.8h6.32v6.2h-6.32zM1345.62 879.8h6.32v6.2h-6.32zM1359.06 879.8h6.32v6.2h-6.32zM1372.5 879.8h6.32v6.2h-6.32zM1385.93 879.8h6.32v6.2h-6.32zM1399.37 879.8h6.32v6.2h-6.32zM1325.47 886.4h6.32v6.2h-6.32zM1338.9 886.4h6.32v6.2h-6.32zM1352.34 886.4h6.32v6.2h-6.32zM1365.78 886.4h6.32v6.2h-6.32zM1379.22 886.4h6.32v6.2h-6.32zM1392.65 886.4h6.32v6.2h-6.32zM1318.75 893h6.32v6.2h-6.32zM1332.18 893h6.32v6.2h-6.32zM1345.62 893h6.32v6.2h-6.32zM1359.06 893h6.32v6.2h-6.32zM1372.5 893h6.32v6.2h-6.32zM1385.93 893h6.32v6.2h-6.32zM1399.37 893h6.32v6.2h-6.32zM1325.47 899.6h6.32v6.2h-6.32zM1338.9 899.6h6.32v6.2h-6.32zM1352.34 899.6h6.32v6.2h-6.32zM1365.78 899.6h6.32v6.2h-6.32zM1379.22 899.6h6.32v6.2h-6.32zM1392.65 899.6h6.32v6.2h-6.32zM1318.75 906.2h6.32v6.2h-6.32zM1332.18 906.2h6.32v6.2h-6.32zM1345.62 906.2h6.32v6.2h-6.32zM1359.06 906.2h6.32v6.2h-6.32zM1372.5 906.2h6.32v6.2h-6.32zM1385.93 906.2h6.32v6.2h-6.32zM1399.37 906.2h6.32v6.2h-6.32zM1325.47 912.8h6.32v6.2h-6.32zM1338.9 912.8h6.32v6.2h-6.32zM1352.34 912.8h6.32v6.2h-6.32zM1365.78 912.8h6.32v6.2h-6.32zM1379.22 912.8h6.32v6.2h-6.32zM1392.65 912.8h6.32v6.2h-6.32zM1318.75 919.4h6.32v6.2h-6.32zM1332.18 919.4h6.32v6.2h-6.32zM1345.62 919.4h6.32v6.2h-6.32zM1359.06 919.4h6.32v6.2h-6.32zM1372.5 919.4h6.32v6.2h-6.32zM1385.93 919.4h6.32v6.2h-6.32zM1399.37 919.4h6.32v6.2h-6.32zM1325.47 926h6.32v6.2h-6.32zM1338.9 926h6.32v6.2h-6.32zM1352.34 926h6.32v6.2h-6.32zM1365.78 926h6.32v6.2h-6.32zM1379.22 926h6.32v6.2h-6.32zM1392.65 926h6.32v6.2h-6.32zM1318.75 932.6h6.32v6.2h-6.32zM1332.18 932.6h6.32v6.2h-6.32zM1345.62 932.6h6.32v6.2h-6.32zM1359.06 932.6h6.32v6.2h-6.32zM1372.5 932.6h6.32v6.2h-6.32zM1385.93 932.6h6.32v6.2h-6.32zM1399.37 932.6h6.32v6.2h-6.32zM1325.47 939.2h6.32v6.2h-6.32zM1338.9 939.2h6.32v6.2h-6.32zM1352.34 939.2h6.32v6.2h-6.32zM1365.78 939.2h6.32v6.2h-6.32zM1379.22 939.2h6.32v6.2h-6.32zM1392.65 939.2h6.32v6.2h-6.32z"/></svg>
<path class="bo" style="stroke-width:2.9" d="M1331.85 933.2V700.05H1394.25V933.2"/>
<path class="er" d="M1461.65 684.5V658.2"/>
<path class="ca" d="M1445.2 658.2H1478.1"/>
<rect x="1430.4" y="684.8" width="62.5" height="248.4" fill="#fff"/>
<svg x="1430.4" y="684.8" width="62.5" height="248.4" viewBox="1430.4 684.8 62.5 248.4" overflow="hidden"><path class="dl" d="M1424.4 597.97L1498.9 666.76M1424.4 614.57L1498.9 683.36M1424.4 631.17L1498.9 699.96M1424.4 647.77L1498.9 716.56M1424.4 664.37L1498.9 733.16M1424.4 680.97L1498.9 749.76M1424.4 697.57L1498.9 766.36M1424.4 714.17L1498.9 782.96M1424.4 730.77L1498.9 799.56M1424.4 747.37L1498.9 816.16M1424.4 763.97L1498.9 832.76M1424.4 780.57L1498.9 849.36M1424.4 797.17L1498.9 865.96M1424.4 813.77L1498.9 882.56M1424.4 830.37L1498.9 899.16M1424.4 846.97L1498.9 915.76M1424.4 863.57L1498.9 932.36M1424.4 880.17L1498.9 948.96M1424.4 896.77L1498.9 965.56M1424.4 913.37L1498.9 982.16M1424.4 929.97L1498.9 998.76"/></svg>
<path class="bo" style="stroke-width:2.9" d="M1430.55 933.2V684.95H1492.75V933.2"/>
<path class="ax" d="M1199.4 569.75V934.65"/>
<path class="axx" d="M1190.8 933.2H1528.5"/>
<text class="tk" transform="translate(1185.8 580) scale(1.02 1.08)">50</text>
<text class="tk" transform="translate(1185.8 652.36) scale(1.02 1.08)">40</text>
<text class="tk" transform="translate(1185.8 724.72) scale(1.02 1.08)">30</text>
<text class="tk" transform="translate(1185.8 797.08) scale(1.02 1.08)">20</text>
<text class="tk" transform="translate(1185.8 869.44) scale(1.02 1.08)">10</text>
<text class="tk" transform="translate(1185.8 941.8) scale(1.02 1.08)">0</text>
<path class="ti" d="M1189.5 571.4H1199.4M1189.5 643.76H1199.4M1189.5 716.12H1199.4M1189.5 788.48H1199.4M1189.5 860.84H1199.4"/>
<path class="tx" d="M1265.2 933.2V942.9M1363 933.2V942.9M1461.5 933.2V942.9"/>
<text class="xl" transform="translate(1273.6 964.6) scale(1.02 1) rotate(-45)">CON</text>
<text class="xl" transform="translate(1371.4 964.6) scale(1.02 1) rotate(-45)">ECON</text>
<text class="xl" transform="translate(1469.9 964.6) scale(1.02 1) rotate(-45)">EDMY</text>
<text class="yl" transform="translate(1143.9 751.9) scale(1.02 1) rotate(-90)">GOT (U / L)</text>
</g>
<g id="p7">
<path class="er" d="M147.8 1189.2V1176.7"/>
<path class="ca" d="M131.2 1176.7H164.4"/>
<rect x="116.6" y="1189.5" width="62.4" height="295" fill="#fff"/>
<svg x="116.6" y="1189.5" width="62.4" height="295" viewBox="116.6 1189.5 62.4 295" overflow="hidden"><path class="hl" d="M116.6 1199.2H179M116.6 1209.23H179M116.6 1219.26H179M116.6 1229.29H179M116.6 1239.32H179M116.6 1249.35H179M116.6 1259.38H179M116.6 1269.41H179M116.6 1279.44H179M116.6 1289.47H179M116.6 1299.5H179M116.6 1309.53H179M116.6 1319.56H179M116.6 1329.59H179M116.6 1339.62H179M116.6 1349.65H179M116.6 1359.68H179M116.6 1369.71H179M116.6 1379.74H179M116.6 1389.77H179M116.6 1399.8H179M116.6 1409.83H179M116.6 1419.86H179M116.6 1429.89H179M116.6 1439.92H179M116.6 1449.95H179M116.6 1459.98H179M116.6 1470.01H179M116.6 1480.04H179"/></svg>
<path class="bo" d="M116.6 1484.5V1189.5H179V1484.5"/>
<path class="er" d="M245.7 1194.4V1182.4"/>
<path class="ca" d="M229.1 1182.4H262.3"/>
<rect x="214.7" y="1194.7" width="62" height="289.8" fill="#fff"/>
<svg x="214.7" y="1194.7" width="62" height="289.8" viewBox="214.7 1194.7 62 289.8" overflow="hidden"><path class="ck" d="M207.77 1183.3h6.32v6.2h-6.32zM221.2 1183.3h6.32v6.2h-6.32zM234.64 1183.3h6.32v6.2h-6.32zM248.08 1183.3h6.32v6.2h-6.32zM261.52 1183.3h6.32v6.2h-6.32zM274.95 1183.3h6.32v6.2h-6.32zM214.48 1189.9h6.32v6.2h-6.32zM227.92 1189.9h6.32v6.2h-6.32zM241.36 1189.9h6.32v6.2h-6.32zM254.8 1189.9h6.32v6.2h-6.32zM268.23 1189.9h6.32v6.2h-6.32zM281.67 1189.9h6.32v6.2h-6.32zM207.77 1196.5h6.32v6.2h-6.32zM221.2 1196.5h6.32v6.2h-6.32zM234.64 1196.5h6.32v6.2h-6.32zM248.08 1196.5h6.32v6.2h-6.32zM261.52 1196.5h6.32v6.2h-6.32zM274.95 1196.5h6.32v6.2h-6.32zM214.48 1203.1h6.32v6.2h-6.32zM227.92 1203.1h6.32v6.2h-6.32zM241.36 1203.1h6.32v6.2h-6.32zM254.8 1203.1h6.32v6.2h-6.32zM268.23 1203.1h6.32v6.2h-6.32zM281.67 1203.1h6.32v6.2h-6.32zM207.77 1209.7h6.32v6.2h-6.32zM221.2 1209.7h6.32v6.2h-6.32zM234.64 1209.7h6.32v6.2h-6.32zM248.08 1209.7h6.32v6.2h-6.32zM261.52 1209.7h6.32v6.2h-6.32zM274.95 1209.7h6.32v6.2h-6.32zM214.48 1216.3h6.32v6.2h-6.32zM227.92 1216.3h6.32v6.2h-6.32zM241.36 1216.3h6.32v6.2h-6.32zM254.8 1216.3h6.32v6.2h-6.32zM268.23 1216.3h6.32v6.2h-6.32zM281.67 1216.3h6.32v6.2h-6.32zM207.77 1222.9h6.32v6.2h-6.32zM221.2 1222.9h6.32v6.2h-6.32zM234.64 1222.9h6.32v6.2h-6.32zM248.08 1222.9h6.32v6.2h-6.32zM261.52 1222.9h6.32v6.2h-6.32zM274.95 1222.9h6.32v6.2h-6.32zM214.48 1229.5h6.32v6.2h-6.32zM227.92 1229.5h6.32v6.2h-6.32zM241.36 1229.5h6.32v6.2h-6.32zM254.8 1229.5h6.32v6.2h-6.32zM268.23 1229.5h6.32v6.2h-6.32zM281.67 1229.5h6.32v6.2h-6.32zM207.77 1236.1h6.32v6.2h-6.32zM221.2 1236.1h6.32v6.2h-6.32zM234.64 1236.1h6.32v6.2h-6.32zM248.08 1236.1h6.32v6.2h-6.32zM261.52 1236.1h6.32v6.2h-6.32zM274.95 1236.1h6.32v6.2h-6.32zM214.48 1242.7h6.32v6.2h-6.32zM227.92 1242.7h6.32v6.2h-6.32zM241.36 1242.7h6.32v6.2h-6.32zM254.8 1242.7h6.32v6.2h-6.32zM268.23 1242.7h6.32v6.2h-6.32zM281.67 1242.7h6.32v6.2h-6.32zM207.77 1249.3h6.32v6.2h-6.32zM221.2 1249.3h6.32v6.2h-6.32zM234.64 1249.3h6.32v6.2h-6.32zM248.08 1249.3h6.32v6.2h-6.32zM261.52 1249.3h6.32v6.2h-6.32zM274.95 1249.3h6.32v6.2h-6.32zM214.48 1255.9h6.32v6.2h-6.32zM227.92 1255.9h6.32v6.2h-6.32zM241.36 1255.9h6.32v6.2h-6.32zM254.8 1255.9h6.32v6.2h-6.32zM268.23 1255.9h6.32v6.2h-6.32zM281.67 1255.9h6.32v6.2h-6.32zM207.77 1262.5h6.32v6.2h-6.32zM221.2 1262.5h6.32v6.2h-6.32zM234.64 1262.5h6.32v6.2h-6.32zM248.08 1262.5h6.32v6.2h-6.32zM261.52 1262.5h6.32v6.2h-6.32zM274.95 1262.5h6.32v6.2h-6.32zM214.48 1269.1h6.32v6.2h-6.32zM227.92 1269.1h6.32v6.2h-6.32zM241.36 1269.1h6.32v6.2h-6.32zM254.8 1269.1h6.32v6.2h-6.32zM268.23 1269.1h6.32v6.2h-6.32zM281.67 1269.1h6.32v6.2h-6.32zM207.77 1275.7h6.32v6.2h-6.32zM221.2 1275.7h6.32v6.2h-6.32zM234.64 1275.7h6.32v6.2h-6.32zM248.08 1275.7h6.32v6.2h-6.32zM261.52 1275.7h6.32v6.2h-6.32zM274.95 1275.7h6.32v6.2h-6.32zM214.48 1282.3h6.32v6.2h-6.32zM227.92 1282.3h6.32v6.2h-6.32zM241.36 1282.3h6.32v6.2h-6.32zM254.8 1282.3h6.32v6.2h-6.32zM268.23 1282.3h6.32v6.2h-6.32zM281.67 1282.3h6.32v6.2h-6.32zM207.77 1288.9h6.32v6.2h-6.32zM221.2 1288.9h6.32v6.2h-6.32zM234.64 1288.9h6.32v6.2h-6.32zM248.08 1288.9h6.32v6.2h-6.32zM261.52 1288.9h6.32v6.2h-6.32zM274.95 1288.9h6.32v6.2h-6.32zM214.48 1295.5h6.32v6.2h-6.32zM227.92 1295.5h6.32v6.2h-6.32zM241.36 1295.5h6.32v6.2h-6.32zM254.8 1295.5h6.32v6.2h-6.32zM268.23 1295.5h6.32v6.2h-6.32zM281.67 1295.5h6.32v6.2h-6.32zM207.77 1302.1h6.32v6.2h-6.32zM221.2 1302.1h6.32v6.2h-6.32zM234.64 1302.1h6.32v6.2h-6.32zM248.08 1302.1h6.32v6.2h-6.32zM261.52 1302.1h6.32v6.2h-6.32zM274.95 1302.1h6.32v6.2h-6.32zM214.48 1308.7h6.32v6.2h-6.32zM227.92 1308.7h6.32v6.2h-6.32zM241.36 1308.7h6.32v6.2h-6.32zM254.8 1308.7h6.32v6.2h-6.32zM268.23 1308.7h6.32v6.2h-6.32zM281.67 1308.7h6.32v6.2h-6.32zM207.77 1315.3h6.32v6.2h-6.32zM221.2 1315.3h6.32v6.2h-6.32zM234.64 1315.3h6.32v6.2h-6.32zM248.08 1315.3h6.32v6.2h-6.32zM261.52 1315.3h6.32v6.2h-6.32zM274.95 1315.3h6.32v6.2h-6.32zM214.48 1321.9h6.32v6.2h-6.32zM227.92 1321.9h6.32v6.2h-6.32zM241.36 1321.9h6.32v6.2h-6.32zM254.8 1321.9h6.32v6.2h-6.32zM268.23 1321.9h6.32v6.2h-6.32zM281.67 1321.9h6.32v6.2h-6.32zM207.77 1328.5h6.32v6.2h-6.32zM221.2 1328.5h6.32v6.2h-6.32zM234.64 1328.5h6.32v6.2h-6.32zM248.08 1328.5h6.32v6.2h-6.32zM261.52 1328.5h6.32v6.2h-6.32zM274.95 1328.5h6.32v6.2h-6.32zM214.48 1335.1h6.32v6.2h-6.32zM227.92 1335.1h6.32v6.2h-6.32zM241.36 1335.1h6.32v6.2h-6.32zM254.8 1335.1h6.32v6.2h-6.32zM268.23 1335.1h6.32v6.2h-6.32zM281.67 1335.1h6.32v6.2h-6.32zM207.77 1341.7h6.32v6.2h-6.32zM221.2 1341.7h6.32v6.2h-6.32zM234.64 1341.7h6.32v6.2h-6.32zM248.08 1341.7h6.32v6.2h-6.32zM261.52 1341.7h6.32v6.2h-6.32zM274.95 1341.7h6.32v6.2h-6.32zM214.48 1348.3h6.32v6.2h-6.32zM227.92 1348.3h6.32v6.2h-6.32zM241.36 1348.3h6.32v6.2h-6.32zM254.8 1348.3h6.32v6.2h-6.32zM268.23 1348.3h6.32v6.2h-6.32zM281.67 1348.3h6.32v6.2h-6.32zM207.77 1354.9h6.32v6.2h-6.32zM221.2 1354.9h6.32v6.2h-6.32zM234.64 1354.9h6.32v6.2h-6.32zM248.08 1354.9h6.32v6.2h-6.32zM261.52 1354.9h6.32v6.2h-6.32zM274.95 1354.9h6.32v6.2h-6.32zM214.48 1361.5h6.32v6.2h-6.32zM227.92 1361.5h6.32v6.2h-6.32zM241.36 1361.5h6.32v6.2h-6.32zM254.8 1361.5h6.32v6.2h-6.32zM268.23 1361.5h6.32v6.2h-6.32zM281.67 1361.5h6.32v6.2h-6.32zM207.77 1368.1h6.32v6.2h-6.32zM221.2 1368.1h6.32v6.2h-6.32zM234.64 1368.1h6.32v6.2h-6.32zM248.08 1368.1h6.32v6.2h-6.32zM261.52 1368.1h6.32v6.2h-6.32zM274.95 1368.1h6.32v6.2h-6.32zM214.48 1374.7h6.32v6.2h-6.32zM227.92 1374.7h6.32v6.2h-6.32zM241.36 1374.7h6.32v6.2h-6.32zM254.8 1374.7h6.32v6.2h-6.32zM268.23 1374.7h6.32v6.2h-6.32zM281.67 1374.7h6.32v6.2h-6.32zM207.77 1381.3h6.32v6.2h-6.32zM221.2 1381.3h6.32v6.2h-6.32zM234.64 1381.3h6.32v6.2h-6.32zM248.08 1381.3h6.32v6.2h-6.32zM261.52 1381.3h6.32v6.2h-6.32zM274.95 1381.3h6.32v6.2h-6.32zM214.48 1387.9h6.32v6.2h-6.32zM227.92 1387.9h6.32v6.2h-6.32zM241.36 1387.9h6.32v6.2h-6.32zM254.8 1387.9h6.32v6.2h-6.32zM268.23 1387.9h6.32v6.2h-6.32zM281.67 1387.9h6.32v6.2h-6.32zM207.77 1394.5h6.32v6.2h-6.32zM221.2 1394.5h6.32v6.2h-6.32zM234.64 1394.5h6.32v6.2h-6.32zM248.08 1394.5h6.32v6.2h-6.32zM261.52 1394.5h6.32v6.2h-6.32zM274.95 1394.5h6.32v6.2h-6.32zM214.48 1401.1h6.32v6.2h-6.32zM227.92 1401.1h6.32v6.2h-6.32zM241.36 1401.1h6.32v6.2h-6.32zM254.8 1401.1h6.32v6.2h-6.32zM268.23 1401.1h6.32v6.2h-6.32zM281.67 1401.1h6.32v6.2h-6.32zM207.77 1407.7h6.32v6.2h-6.32zM221.2 1407.7h6.32v6.2h-6.32zM234.64 1407.7h6.32v6.2h-6.32zM248.08 1407.7h6.32v6.2h-6.32zM261.52 1407.7h6.32v6.2h-6.32zM274.95 1407.7h6.32v6.2h-6.32zM214.48 1414.3h6.32v6.2h-6.32zM227.92 1414.3h6.32v6.2h-6.32zM241.36 1414.3h6.32v6.2h-6.32zM254.8 1414.3h6.32v6.2h-6.32zM268.23 1414.3h6.32v6.2h-6.32zM281.67 1414.3h6.32v6.2h-6.32zM207.77 1420.9h6.32v6.2h-6.32zM221.2 1420.9h6.32v6.2h-6.32zM234.64 1420.9h6.32v6.2h-6.32zM248.08 1420.9h6.32v6.2h-6.32zM261.52 1420.9h6.32v6.2h-6.32zM274.95 1420.9h6.32v6.2h-6.32zM214.48 1427.5h6.32v6.2h-6.32zM227.92 1427.5h6.32v6.2h-6.32zM241.36 1427.5h6.32v6.2h-6.32zM254.8 1427.5h6.32v6.2h-6.32zM268.23 1427.5h6.32v6.2h-6.32zM281.67 1427.5h6.32v6.2h-6.32zM207.77 1434.1h6.32v6.2h-6.32zM221.2 1434.1h6.32v6.2h-6.32zM234.64 1434.1h6.32v6.2h-6.32zM248.08 1434.1h6.32v6.2h-6.32zM261.52 1434.1h6.32v6.2h-6.32zM274.95 1434.1h6.32v6.2h-6.32zM214.48 1440.7h6.32v6.2h-6.32zM227.92 1440.7h6.32v6.2h-6.32zM241.36 1440.7h6.32v6.2h-6.32zM254.8 1440.7h6.32v6.2h-6.32zM268.23 1440.7h6.32v6.2h-6.32zM281.67 1440.7h6.32v6.2h-6.32zM207.77 1447.3h6.32v6.2h-6.32zM221.2 1447.3h6.32v6.2h-6.32zM234.64 1447.3h6.32v6.2h-6.32zM248.08 1447.3h6.32v6.2h-6.32zM261.52 1447.3h6.32v6.2h-6.32zM274.95 1447.3h6.32v6.2h-6.32zM214.48 1453.9h6.32v6.2h-6.32zM227.92 1453.9h6.32v6.2h-6.32zM241.36 1453.9h6.32v6.2h-6.32zM254.8 1453.9h6.32v6.2h-6.32zM268.23 1453.9h6.32v6.2h-6.32zM281.67 1453.9h6.32v6.2h-6.32zM207.77 1460.5h6.32v6.2h-6.32zM221.2 1460.5h6.32v6.2h-6.32zM234.64 1460.5h6.32v6.2h-6.32zM248.08 1460.5h6.32v6.2h-6.32zM261.52 1460.5h6.32v6.2h-6.32zM274.95 1460.5h6.32v6.2h-6.32zM214.48 1467.1h6.32v6.2h-6.32zM227.92 1467.1h6.32v6.2h-6.32zM241.36 1467.1h6.32v6.2h-6.32zM254.8 1467.1h6.32v6.2h-6.32zM268.23 1467.1h6.32v6.2h-6.32zM281.67 1467.1h6.32v6.2h-6.32zM207.77 1473.7h6.32v6.2h-6.32zM221.2 1473.7h6.32v6.2h-6.32zM234.64 1473.7h6.32v6.2h-6.32zM248.08 1473.7h6.32v6.2h-6.32zM261.52 1473.7h6.32v6.2h-6.32zM274.95 1473.7h6.32v6.2h-6.32zM214.48 1480.3h6.32v6.2h-6.32zM227.92 1480.3h6.32v6.2h-6.32zM241.36 1480.3h6.32v6.2h-6.32zM254.8 1480.3h6.32v6.2h-6.32zM268.23 1480.3h6.32v6.2h-6.32zM281.67 1480.3h6.32v6.2h-6.32zM207.77 1486.9h6.32v6.2h-6.32zM221.2 1486.9h6.32v6.2h-6.32zM234.64 1486.9h6.32v6.2h-6.32zM248.08 1486.9h6.32v6.2h-6.32zM261.52 1486.9h6.32v6.2h-6.32zM274.95 1486.9h6.32v6.2h-6.32z"/></svg>
<path class="bo" style="stroke-width:2.9" d="M214.85 1484.5V1194.85H276.55V1484.5"/>
<path class="er" d="M343.6 1176.5V1163.1"/>
<path class="ca" d="M327 1163.1H360.2"/>
<rect x="312.2" y="1176.8" width="62.8" height="307.7" fill="#fff"/>
<svg x="312.2" y="1176.8" width="62.8" height="307.7" viewBox="312.2 1176.8 62.8 307.7" overflow="hidden"><path class="dl" d="M306.2 1079.77L381 1148.84M306.2 1096.37L381 1165.44M306.2 1112.97L381 1182.04M306.2 1129.57L381 1198.64M306.2 1146.17L381 1215.24M306.2 1162.77L381 1231.84M306.2 1179.37L381 1248.44M306.2 1195.97L381 1265.04M306.2 1212.57L381 1281.64M306.2 1229.17L381 1298.24M306.2 1245.77L381 1314.84M306.2 1262.37L381 1331.44M306.2 1278.97L381 1348.04M306.2 1295.57L381 1364.64M306.2 1312.17L381 1381.24M306.2 1328.77L381 1397.84M306.2 1345.37L381 1414.44M306.2 1361.97L381 1431.04M306.2 1378.57L381 1447.64M306.2 1395.17L381 1464.24M306.2 1411.77L381 1480.84M306.2 1428.37L381 1497.44M306.2 1444.97L381 1514.04M306.2 1461.57L381 1530.64M306.2 1478.17L381 1547.24"/></svg>
<path class="bo" style="stroke-width:2.9" d="M312.35 1484.5V1176.95H374.85V1484.5"/>
<path class="ax" d="M82.05 1121.55V1485.95"/>
<path class="axx" d="M73.2 1484.5H410.9"/>
<text class="tk" transform="translate(68.45 1131.8) scale(1.02 1.08)">50</text>
<text class="tk" transform="translate(68.45 1204.06) scale(1.02 1.08)">40</text>
<text class="tk" transform="translate(68.45 1276.32) scale(1.02 1.08)">30</text>
<text class="tk" transform="translate(68.45 1348.58) scale(1.02 1.08)">20</text>
<text class="tk" transform="translate(68.45 1420.84) scale(1.02 1.08)">10</text>
<text class="tk" transform="translate(68.45 1493.1) scale(1.02 1.08)">0</text>
<path class="ti" d="M72.15 1123.2H82.05M72.15 1195.46H82.05M72.15 1267.72H82.05M72.15 1339.98H82.05M72.15 1412.24H82.05"/>
<path class="tx" d="M147.4 1484.5V1494.2M245.5 1484.5V1494.2M343.6 1484.5V1494.2"/>
<text class="xl" transform="translate(155.8 1515.9) scale(1.02 1) rotate(-45)">CON</text>
<text class="xl" transform="translate(253.9 1515.9) scale(1.02 1) rotate(-45)">ECON</text>
<text class="xl" transform="translate(352 1515.9) scale(1.02 1) rotate(-45)">EDMY</text>
<text class="yl" transform="translate(26.7 1302.85) scale(1.02 1) rotate(-90)">Total protein (g / L)</text>
</g>
<g id="p8">
<path class="er" d="M690 1225.9V1184.9"/>
<path class="ca" d="M673 1184.9H707"/>
<rect x="658.3" y="1226.2" width="63.4" height="255.2" fill="#fff"/>
<svg x="658.3" y="1226.2" width="63.4" height="255.2" viewBox="658.3 1226.2 63.4 255.2" overflow="hidden"><path class="hl" d="M658.3 1235H721.7M658.3 1245.03H721.7M658.3 1255.06H721.7M658.3 1265.09H721.7M658.3 1275.12H721.7M658.3 1285.15H721.7M658.3 1295.18H721.7M658.3 1305.21H721.7M658.3 1315.24H721.7M658.3 1325.27H721.7M658.3 1335.3H721.7M658.3 1345.33H721.7M658.3 1355.36H721.7M658.3 1365.39H721.7M658.3 1375.42H721.7M658.3 1385.45H721.7M658.3 1395.48H721.7M658.3 1405.51H721.7M658.3 1415.54H721.7M658.3 1425.57H721.7M658.3 1435.6H721.7M658.3 1445.63H721.7M658.3 1455.66H721.7M658.3 1465.69H721.7M658.3 1475.72H721.7"/></svg>
<path class="bo" d="M658.3 1481.4V1226.2H721.7V1481.4"/>
<path class="er" d="M790.45 1238.1V1209.6"/>
<path class="ca" d="M773.45 1209.6H807.45"/>
<rect x="758.2" y="1238.4" width="64.5" height="243" fill="#fff"/>
<svg x="758.2" y="1238.4" width="64.5" height="243" viewBox="758.2 1238.4 64.5 243" overflow="hidden"><path class="ck" d="M751.89 1226.2h6.49v6.2h-6.49zM765.67 1226.2h6.49v6.2h-6.49zM779.45 1226.2h6.49v6.2h-6.49zM793.24 1226.2h6.49v6.2h-6.49zM807.02 1226.2h6.49v6.2h-6.49zM820.8 1226.2h6.49v6.2h-6.49zM745 1232.8h6.49v6.2h-6.49zM758.78 1232.8h6.49v6.2h-6.49zM772.56 1232.8h6.49v6.2h-6.49zM786.35 1232.8h6.49v6.2h-6.49zM800.13 1232.8h6.49v6.2h-6.49zM813.91 1232.8h6.49v6.2h-6.49zM827.69 1232.8h6.49v6.2h-6.49zM751.89 1239.4h6.49v6.2h-6.49zM765.67 1239.4h6.49v6.2h-6.49zM779.45 1239.4h6.49v6.2h-6.49zM793.24 1239.4h6.49v6.2h-6.49zM807.02 1239.4h6.49v6.2h-6.49zM820.8 1239.4h6.49v6.2h-6.49zM745 1246h6.49v6.2h-6.49zM758.78 1246h6.49v6.2h-6.49zM772.56 1246h6.49v6.2h-6.49zM786.35 1246h6.49v6.2h-6.49zM800.13 1246h6.49v6.2h-6.49zM813.91 1246h6.49v6.2h-6.49zM827.69 1246h6.49v6.2h-6.49zM751.89 1252.6h6.49v6.2h-6.49zM765.67 1252.6h6.49v6.2h-6.49zM779.45 1252.6h6.49v6.2h-6.49zM793.24 1252.6h6.49v6.2h-6.49zM807.02 1252.6h6.49v6.2h-6.49zM820.8 1252.6h6.49v6.2h-6.49zM745 1259.2h6.49v6.2h-6.49zM758.78 1259.2h6.49v6.2h-6.49zM772.56 1259.2h6.49v6.2h-6.49zM786.35 1259.2h6.49v6.2h-6.49zM800.13 1259.2h6.49v6.2h-6.49zM813.91 1259.2h6.49v6.2h-6.49zM827.69 1259.2h6.49v6.2h-6.49zM751.89 1265.8h6.49v6.2h-6.49zM765.67 1265.8h6.49v6.2h-6.49zM779.45 1265.8h6.49v6.2h-6.49zM793.24 1265.8h6.49v6.2h-6.49zM807.02 1265.8h6.49v6.2h-6.49zM820.8 1265.8h6.49v6.2h-6.49zM745 1272.4h6.49v6.2h-6.49zM758.78 1272.4h6.49v6.2h-6.49zM772.56 1272.4h6.49v6.2h-6.49zM786.35 1272.4h6.49v6.2h-6.49zM800.13 1272.4h6.49v6.2h-6.49zM813.91 1272.4h6.49v6.2h-6.49zM827.69 1272.4h6.49v6.2h-6.49zM751.89 1279h6.49v6.2h-6.49zM765.67 1279h6.49v6.2h-6.49zM779.45 1279h6.49v6.2h-6.49zM793.24 1279h6.49v6.2h-6.49zM807.02 1279h6.49v6.2h-6.49zM820.8 1279h6.49v6.2h-6.49zM745 1285.6h6.49v6.2h-6.49zM758.78 1285.6h6.49v6.2h-6.49zM772.56 1285.6h6.49v6.2h-6.49zM786.35 1285.6h6.49v6.2h-6.49zM800.13 1285.6h6.49v6.2h-6.49zM813.91 1285.6h6.49v6.2h-6.49zM827.69 1285.6h6.49v6.2h-6.49zM751.89 1292.2h6.49v6.2h-6.49zM765.67 1292.2h6.49v6.2h-6.49zM779.45 1292.2h6.49v6.2h-6.49zM793.24 1292.2h6.49v6.2h-6.49zM807.02 1292.2h6.49v6.2h-6.49zM820.8 1292.2h6.49v6.2h-6.49zM745 1298.8h6.49v6.2h-6.49zM758.78 1298.8h6.49v6.2h-6.49zM772.56 1298.8h6.49v6.2h-6.49zM786.35 1298.8h6.49v6.2h-6.49zM800.13 1298.8h6.49v6.2h-6.49zM813.91 1298.8h6.49v6.2h-6.49zM827.69 1298.8h6.49v6.2h-6.49zM751.89 1305.4h6.49v6.2h-6.49zM765.67 1305.4h6.49v6.2h-6.49zM779.45 1305.4h6.49v6.2h-6.49zM793.24 1305.4h6.49v6.2h-6.49zM807.02 1305.4h6.49v6.2h-6.49zM820.8 1305.4h6.49v6.2h-6.49zM745 1312h6.49v6.2h-6.49zM758.78 1312h6.49v6.2h-6.49zM772.56 1312h6.49v6.2h-6.49zM786.35 1312h6.49v6.2h-6.49zM800.13 1312h6.49v6.2h-6.49zM813.91 1312h6.49v6.2h-6.49zM827.69 1312h6.49v6.2h-6.49zM751.89 1318.6h6.49v6.2h-6.49zM765.67 1318.6h6.49v6.2h-6.49zM779.45 1318.6h6.49v6.2h-6.49zM793.24 1318.6h6.49v6.2h-6.49zM807.02 1318.6h6.49v6.2h-6.49zM820.8 1318.6h6.49v6.2h-6.49zM745 1325.2h6.49v6.2h-6.49zM758.78 1325.2h6.49v6.2h-6.49zM772.56 1325.2h6.49v6.2h-6.49zM786.35 1325.2h6.49v6.2h-6.49zM800.13 1325.2h6.49v6.2h-6.49zM813.91 1325.2h6.49v6.2h-6.49zM827.69 1325.2h6.49v6.2h-6.49zM751.89 1331.8h6.49v6.2h-6.49zM765.67 1331.8h6.49v6.2h-6.49zM779.45 1331.8h6.49v6.2h-6.49zM793.24 1331.8h6.49v6.2h-6.49zM807.02 1331.8h6.49v6.2h-6.49zM820.8 1331.8h6.49v6.2h-6.49zM745 1338.4h6.49v6.2h-6.49zM758.78 1338.4h6.49v6.2h-6.49zM772.56 1338.4h6.49v6.2h-6.49zM786.35 1338.4h6.49v6.2h-6.49zM800.13 1338.4h6.49v6.2h-6.49zM813.91 1338.4h6.49v6.2h-6.49zM827.69 1338.4h6.49v6.2h-6.49zM751.89 1345h6.49v6.2h-6.49zM765.67 1345h6.49v6.2h-6.49zM779.45 1345h6.49v6.2h-6.49zM793.24 1345h6.49v6.2h-6.49zM807.02 1345h6.49v6.2h-6.49zM820.8 1345h6.49v6.2h-6.49zM745 1351.6h6.49v6.2h-6.49zM758.78 1351.6h6.49v6.2h-6.49zM772.56 1351.6h6.49v6.2h-6.49zM786.35 1351.6h6.49v6.2h-6.49zM800.13 1351.6h6.49v6.2h-6.49zM813.91 1351.6h6.49v6.2h-6.49zM827.69 1351.6h6.49v6.2h-6.49zM751.89 1358.2h6.49v6.2h-6.49zM765.67 1358.2h6.49v6.2h-6.49zM779.45 1358.2h6.49v6.2h-6.49zM793.24 1358.2h6.49v6.2h-6.49zM807.02 1358.2h6.49v6.2h-6.49zM820.8 1358.2h6.49v6.2h-6.49zM745 1364.8h6.49v6.2h-6.49zM758.78 1364.8h6.49v6.2h-6.49zM772.56 1364.8h6.49v6.2h-6.49zM786.35 1364.8h6.49v6.2h-6.49zM800.13 1364.8h6.49v6.2h-6.49zM813.91 1364.8h6.49v6.2h-6.49zM827.69 1364.8h6.49v6.2h-6.49zM751.89 1371.4h6.49v6.2h-6.49zM765.67 1371.4h6.49v6.2h-6.49zM779.45 1371.4h6.49v6.2h-6.49zM793.24 1371.4h6.49v6.2h-6.49zM807.02 1371.4h6.49v6.2h-6.49zM820.8 1371.4h6.49v6.2h-6.49zM745 1378h6.49v6.2h-6.49zM758.78 1378h6.49v6.2h-6.49zM772.56 1378h6.49v6.2h-6.49zM786.35 1378h6.49v6.2h-6.49zM800.13 1378h6.49v6.2h-6.49zM813.91 1378h6.49v6.2h-6.49zM827.69 1378h6.49v6.2h-6.49zM751.89 1384.6h6.49v6.2h-6.49zM765.67 1384.6h6.49v6.2h-6.49zM779.45 1384.6h6.49v6.2h-6.49zM793.24 1384.6h6.49v6.2h-6.49zM807.02 1384.6h6.49v6.2h-6.49zM820.8 1384.6h6.49v6.2h-6.49zM745 1391.2h6.49v6.2h-6.49zM758.78 1391.2h6.49v6.2h-6.49zM772.56 1391.2h6.49v6.2h-6.49zM786.35 1391.2h6.49v6.2h-6.49zM800.13 1391.2h6.49v6.2h-6.49zM813.91 1391.2h6.49v6.2h-6.49zM827.69 1391.2h6.49v6.2h-6.49zM751.89 1397.8h6.49v6.2h-6.49zM765.67 1397.8h6.49v6.2h-6.49zM779.45 1397.8h6.49v6.2h-6.49zM793.24 1397.8h6.49v6.2h-6.49zM807.02 1397.8h6.49v6.2h-6.49zM820.8 1397.8h6.49v6.2h-6.49zM745 1404.4h6.49v6.2h-6.49zM758.78 1404.4h6.49v6.2h-6.49zM772.56 1404.4h6.49v6.2h-6.49zM786.35 1404.4h6.49v6.2h-6.49zM800.13 1404.4h6.49v6.2h-6.49zM813.91 1404.4h6.49v6.2h-6.49zM827.69 1404.4h6.49v6.2h-6.49zM751.89 1411h6.49v6.2h-6.49zM765.67 1411h6.49v6.2h-6.49zM779.45 1411h6.49v6.2h-6.49zM793.24 1411h6.49v6.2h-6.49zM807.02 1411h6.49v6.2h-6.49zM820.8 1411h6.49v6.2h-6.49zM745 1417.6h6.49v6.2h-6.49zM758.78 1417.6h6.49v6.2h-6.49zM772.56 1417.6h6.49v6.2h-6.49zM786.35 1417.6h6.49v6.2h-6.49zM800.13 1417.6h6.49v6.2h-6.49zM813.91 1417.6h6.49v6.2h-6.49zM827.69 1417.6h6.49v6.2h-6.49zM751.89 1424.2h6.49v6.2h-6.49zM765.67 1424.2h6.49v6.2h-6.49zM779.45 1424.2h6.49v6.2h-6.49zM793.24 1424.2h6.49v6.2h-6.49zM807.02 1424.2h6.49v6.2h-6.49zM820.8 1424.2h6.49v6.2h-6.49zM745 1430.8h6.49v6.2h-6.49zM758.78 1430.8h6.49v6.2h-6.49zM772.56 1430.8h6.49v6.2h-6.49zM786.35 1430.8h6.49v6.2h-6.49zM800.13 1430.8h6.49v6.2h-6.49zM813.91 1430.8h6.49v6.2h-6.49zM827.69 1430.8h6.49v6.2h-6.49zM751.89 1437.4h6.49v6.2h-6.49zM765.67 1437.4h6.49v6.2h-6.49zM779.45 1437.4h6.49v6.2h-6.49zM793.24 1437.4h6.49v6.2h-6.49zM807.02 1437.4h6.49v6.2h-6.49zM820.8 1437.4h6.49v6.2h-6.49zM745 1444h6.49v6.2h-6.49zM758.78 1444h6.49v6.2h-6.49zM772.56 1444h6.49v6.2h-6.49zM786.35 1444h6.49v6.2h-6.49zM800.13 1444h6.49v6.2h-6.49zM813.91 1444h6.49v6.2h-6.49zM827.69 1444h6.49v6.2h-6.49zM751.89 1450.6h6.49v6.2h-6.49zM765.67 1450.6h6.49v6.2h-6.49zM779.45 1450.6h6.49v6.2h-6.49zM793.24 1450.6h6.49v6.2h-6.49zM807.02 1450.6h6.49v6.2h-6.49zM820.8 1450.6h6.49v6.2h-6.49zM745 1457.2h6.49v6.2h-6.49zM758.78 1457.2h6.49v6.2h-6.49zM772.56 1457.2h6.49v6.2h-6.49zM786.35 1457.2h6.49v6.2h-6.49zM800.13 1457.2h6.49v6.2h-6.49zM813.91 1457.2h6.49v6.2h-6.49zM827.69 1457.2h6.49v6.2h-6.49zM751.89 1463.8h6.49v6.2h-6.49zM765.67 1463.8h6.49v6.2h-6.49zM779.45 1463.8h6.49v6.2h-6.49zM793.24 1463.8h6.49v6.2h-6.49zM807.02 1463.8h6.49v6.2h-6.49zM820.8 1463.8h6.49v6.2h-6.49zM745 1470.4h6.49v6.2h-6.49zM758.78 1470.4h6.49v6.2h-6.49zM772.56 1470.4h6.49v6.2h-6.49zM786.35 1470.4h6.49v6.2h-6.49zM800.13 1470.4h6.49v6.2h-6.49zM813.91 1470.4h6.49v6.2h-6.49zM827.69 1470.4h6.49v6.2h-6.49zM751.89 1477h6.49v6.2h-6.49zM765.67 1477h6.49v6.2h-6.49zM779.45 1477h6.49v6.2h-6.49zM793.24 1477h6.49v6.2h-6.49zM807.02 1477h6.49v6.2h-6.49zM820.8 1477h6.49v6.2h-6.49zM745 1483.6h6.49v6.2h-6.49zM758.78 1483.6h6.49v6.2h-6.49zM772.56 1483.6h6.49v6.2h-6.49zM786.35 1483.6h6.49v6.2h-6.49zM800.13 1483.6h6.49v6.2h-6.49zM813.91 1483.6h6.49v6.2h-6.49zM827.69 1483.6h6.49v6.2h-6.49z"/></svg>
<path class="bo" style="stroke-width:2.9" d="M758.35 1481.4V1238.55H822.55V1481.4"/>
<path class="er" d="M891.7 1322.4V1302.9"/>
<path class="ca" d="M874.7 1302.9H908.7"/>
<rect x="859.2" y="1322.7" width="65" height="158.7" fill="#fff"/>
<svg x="859.2" y="1322.7" width="65" height="158.7" viewBox="859.2 1322.7 65 158.7" overflow="hidden"><path class="dl" d="M853.2 1228.37L930.2 1297.7M853.2 1244.97L930.2 1314.3M853.2 1261.57L930.2 1330.9M853.2 1278.17L930.2 1347.5M853.2 1294.77L930.2 1364.1M853.2 1311.37L930.2 1380.7M853.2 1327.97L930.2 1397.3M853.2 1344.57L930.2 1413.9M853.2 1361.17L930.2 1430.5M853.2 1377.77L930.2 1447.1M853.2 1394.37L930.2 1463.7M853.2 1410.97L930.2 1480.3M853.2 1427.57L930.2 1496.9M853.2 1444.17L930.2 1513.5M853.2 1460.77L930.2 1530.1M853.2 1477.37L930.2 1546.7"/></svg>
<path class="bo" style="stroke-width:2.9" d="M859.35 1481.4V1322.85H924.05V1481.4"/>
<path class="ax" d="M622.6 1118.65V1482.85"/>
<path class="axx" d="M613.5 1481.4H960.9"/>
<text class="tk" transform="translate(609 1128.9) scale(1.04 1.08)">5</text>
<text class="tk" transform="translate(609 1201.12) scale(1.04 1.08)">4</text>
<text class="tk" transform="translate(609 1273.34) scale(1.04 1.08)">3</text>
<text class="tk" transform="translate(609 1345.56) scale(1.04 1.08)">2</text>
<text class="tk" transform="translate(609 1417.78) scale(1.04 1.08)">1</text>
<text class="tk" transform="translate(609 1490) scale(1.04 1.08)">0</text>
<path class="ti" d="M612.7 1120.3H622.6M612.7 1192.52H622.6M612.7 1264.74H622.6M612.7 1336.96H622.6M612.7 1409.18H622.6"/>
<path class="tx" d="M689.8 1481.4V1491.1M791 1481.4V1491.1M891.7 1481.4V1491.1"/>
<text class="xl" transform="translate(698.2 1512.8) scale(1.04 1) rotate(-45)">CON</text>
<text class="xl" transform="translate(799.4 1512.8) scale(1.04 1) rotate(-45)">ECON</text>
<text class="xl" transform="translate(900.1 1512.8) scale(1.04 1) rotate(-45)">EDMY</text>
<text class="yl" transform="translate(578.9 1300.45) scale(1.04 1) rotate(-90)">UREA (mmol / L)</text>
<text class="lt" transform="translate(690.4 1162.1) scale(1.04 1)">a</text>
<text class="lt" transform="translate(790.4 1186.9) scale(1.04 1)">ab</text>
<text class="lt" transform="translate(893.6 1280) scale(1.04 1)">b</text>
</g>
<g id="p9">
<path class="er" d="M1270.4 1240.6V1225.9"/>
<path class="ca" d="M1254.5 1225.9H1286.3"/>
<rect x="1239.8" y="1240.9" width="61.2" height="243.6" fill="#fff"/>
<svg x="1239.8" y="1240.9" width="61.2" height="243.6" viewBox="1239.8 1240.9 61.2 243.6" overflow="hidden"><path class="hl" d="M1239.8 1250.7H1301M1239.8 1260.73H1301M1239.8 1270.76H1301M1239.8 1280.79H1301M1239.8 1290.82H1301M1239.8 1300.85H1301M1239.8 1310.88H1301M1239.8 1320.91H1301M1239.8 1330.94H1301M1239.8 1340.97H1301M1239.8 1351H1301M1239.8 1361.03H1301M1239.8 1371.06H1301M1239.8 1381.09H1301M1239.8 1391.12H1301M1239.8 1401.15H1301M1239.8 1411.18H1301M1239.8 1421.21H1301M1239.8 1431.24H1301M1239.8 1441.27H1301M1239.8 1451.3H1301M1239.8 1461.33H1301M1239.8 1471.36H1301M1239.8 1481.39H1301"/></svg>
<path class="bo" d="M1239.8 1484.5V1240.9H1301V1484.5"/>
<path class="er" d="M1366.15 1217.4V1198.5"/>
<path class="ca" d="M1350.25 1198.5H1382.05"/>
<rect x="1335.4" y="1217.7" width="61.5" height="266.8" fill="#fff"/>
<svg x="1335.4" y="1217.7" width="61.5" height="266.8" viewBox="1335.4 1217.7 61.5 266.8" overflow="hidden"><path class="ck" d="M1329.7 1205.9h6.2v6.2h-6.2zM1342.9 1205.9h6.2v6.2h-6.2zM1356.1 1205.9h6.2v6.2h-6.2zM1369.3 1205.9h6.2v6.2h-6.2zM1382.5 1205.9h6.2v6.2h-6.2zM1395.7 1205.9h6.2v6.2h-6.2zM1323.1 1212.5h6.2v6.2h-6.2zM1336.3 1212.5h6.2v6.2h-6.2zM1349.5 1212.5h6.2v6.2h-6.2zM1362.7 1212.5h6.2v6.2h-6.2zM1375.9 1212.5h6.2v6.2h-6.2zM1389.1 1212.5h6.2v6.2h-6.2zM1402.3 1212.5h6.2v6.2h-6.2zM1329.7 1219.1h6.2v6.2h-6.2zM1342.9 1219.1h6.2v6.2h-6.2zM1356.1 1219.1h6.2v6.2h-6.2zM1369.3 1219.1h6.2v6.2h-6.2zM1382.5 1219.1h6.2v6.2h-6.2zM1395.7 1219.1h6.2v6.2h-6.2zM1323.1 1225.7h6.2v6.2h-6.2zM1336.3 1225.7h6.2v6.2h-6.2zM1349.5 1225.7h6.2v6.2h-6.2zM1362.7 1225.7h6.2v6.2h-6.2zM1375.9 1225.7h6.2v6.2h-6.2zM1389.1 1225.7h6.2v6.2h-6.2zM1402.3 1225.7h6.2v6.2h-6.2zM1329.7 1232.3h6.2v6.2h-6.2zM1342.9 1232.3h6.2v6.2h-6.2zM1356.1 1232.3h6.2v6.2h-6.2zM1369.3 1232.3h6.2v6.2h-6.2zM1382.5 1232.3h6.2v6.2h-6.2zM1395.7 1232.3h6.2v6.2h-6.2zM1323.1 1238.9h6.2v6.2h-6.2zM1336.3 1238.9h6.2v6.2h-6.2zM1349.5 1238.9h6.2v6.2h-6.2zM1362.7 1238.9h6.2v6.2h-6.2zM1375.9 1238.9h6.2v6.2h-6.2zM1389.1 1238.9h6.2v6.2h-6.2zM1402.3 1238.9h6.2v6.2h-6.2zM1329.7 1245.5h6.2v6.2h-6.2zM1342.9 1245.5h6.2v6.2h-6.2zM1356.1 1245.5h6.2v6.2h-6.2zM1369.3 1245.5h6.2v6.2h-6.2zM1382.5 1245.5h6.2v6.2h-6.2zM1395.7 1245.5h6.2v6.2h-6.2zM1323.1 1252.1h6.2v6.2h-6.2zM1336.3 1252.1h6.2v6.2h-6.2zM1349.5 1252.1h6.2v6.2h-6.2zM1362.7 1252.1h6.2v6.2h-6.2zM1375.9 1252.1h6.2v6.2h-6.2zM1389.1 1252.1h6.2v6.2h-6.2zM1402.3 1252.1h6.2v6.2h-6.2zM1329.7 1258.7h6.2v6.2h-6.2zM1342.9 1258.7h6.2v6.2h-6.2zM1356.1 1258.7h6.2v6.2h-6.2zM1369.3 1258.7h6.2v6.2h-6.2zM1382.5 1258.7h6.2v6.2h-6.2zM1395.7 1258.7h6.2v6.2h-6.2zM1323.1 1265.3h6.2v6.2h-6.2zM1336.3 1265.3h6.2v6.2h-6.2zM1349.5 1265.3h6.2v6.2h-6.2zM1362.7 1265.3h6.2v6.2h-6.2zM1375.9 1265.3h6.2v6.2h-6.2zM1389.1 1265.3h6.2v6.2h-6.2zM1402.3 1265.3h6.2v6.2h-6.2zM1329.7 1271.9h6.2v6.2h-6.2zM1342.9 1271.9h6.2v6.2h-6.2zM1356.1 1271.9h6.2v6.2h-6.2zM1369.3 1271.9h6.2v6.2h-6.2zM1382.5 1271.9h6.2v6.2h-6.2zM1395.7 1271.9h6.2v6.2h-6.2zM1323.1 1278.5h6.2v6.2h-6.2zM1336.3 1278.5h6.2v6.2h-6.2zM1349.5 1278.5h6.2v6.2h-6.2zM1362.7 1278.5h6.2v6.2h-6.2zM1375.9 1278.5h6.2v6.2h-6.2zM1389.1 1278.5h6.2v6.2h-6.2zM1402.3 1278.5h6.2v6.2h-6.2zM1329.7 1285.1h6.2v6.2h-6.2zM1342.9 1285.1h6.2v6.2h-6.2zM1356.1 1285.1h6.2v6.2h-6.2zM1369.3 1285.1h6.2v6.2h-6.2zM1382.5 1285.1h6.2v6.2h-6.2zM1395.7 1285.1h6.2v6.2h-6.2zM1323.1 1291.7h6.2v6.2h-6.2zM1336.3 1291.7h6.2v6.2h-6.2zM1349.5 1291.7h6.2v6.2h-6.2zM1362.7 1291.7h6.2v6.2h-6.2zM1375.9 1291.7h6.2v6.2h-6.2zM1389.1 1291.7h6.2v6.2h-6.2zM1402.3 1291.7h6.2v6.2h-6.2zM1329.7 1298.3h6.2v6.2h-6.2zM1342.9 1298.3h6.2v6.2h-6.2zM1356.1 1298.3h6.2v6.2h-6.2zM1369.3 1298.3h6.2v6.2h-6.2zM1382.5 1298.3h6.2v6.2h-6.2zM1395.7 1298.3h6.2v6.2h-6.2zM1323.1 1304.9h6.2v6.2h-6.2zM1336.3 1304.9h6.2v6.2h-6.2zM1349.5 1304.9h6.2v6.2h-6.2zM1362.7 1304.9h6.2v6.2h-6.2zM1375.9 1304.9h6.2v6.2h-6.2zM1389.1 1304.9h6.2v6.2h-6.2zM1402.3 1304.9h6.2v6.2h-6.2zM1329.7 1311.5h6.2v6.2h-6.2zM1342.9 1311.5h6.2v6.2h-6.2zM1356.1 1311.5h6.2v6.2h-6.2zM1369.3 1311.5h6.2v6.2h-6.2zM1382.5 1311.5h6.2v6.2h-6.2zM1395.7 1311.5h6.2v6.2h-6.2zM1323.1 1318.1h6.2v6.2h-6.2zM1336.3 1318.1h6.2v6.2h-6.2zM1349.5 1318.1h6.2v6.2h-6.2zM1362.7 1318.1h6.2v6.2h-6.2zM1375.9 1318.1h6.2v6.2h-6.2zM1389.1 1318.1h6.2v6.2h-6.2zM1402.3 1318.1h6.2v6.2h-6.2zM1329.7 1324.7h6.2v6.2h-6.2zM1342.9 1324.7h6.2v6.2h-6.2zM1356.1 1324.7h6.2v6.2h-6.2zM1369.3 1324.7h6.2v6.2h-6.2zM1382.5 1324.7h6.2v6.2h-6.2zM1395.7 1324.7h6.2v6.2h-6.2zM1323.1 1331.3h6.2v6.2h-6.2zM1336.3 1331.3h6.2v6.2h-6.2zM1349.5 1331.3h6.2v6.2h-6.2zM1362.7 1331.3h6.2v6.2h-6.2zM1375.9 1331.3h6.2v6.2h-6.2zM1389.1 1331.3h6.2v6.2h-6.2zM1402.3 1331.3h6.2v6.2h-6.2zM1329.7 1337.9h6.2v6.2h-6.2zM1342.9 1337.9h6.2v6.2h-6.2zM1356.1 1337.9h6.2v6.2h-6.2zM1369.3 1337.9h6.2v6.2h-6.2zM1382.5 1337.9h6.2v6.2h-6.2zM1395.7 1337.9h6.2v6.2h-6.2zM1323.1 1344.5h6.2v6.2h-6.2zM1336.3 1344.5h6.2v6.2h-6.2zM1349.5 1344.5h6.2v6.2h-6.2zM1362.7 1344.5h6.2v6.2h-6.2zM1375.9 1344.5h6.2v6.2h-6.2zM1389.1 1344.5h6.2v6.2h-6.2zM1402.3 1344.5h6.2v6.2h-6.2zM1329.7 1351.1h6.2v6.2h-6.2zM1342.9 1351.1h6.2v6.2h-6.2zM1356.1 1351.1h6.2v6.2h-6.2zM1369.3 1351.1h6.2v6.2h-6.2zM1382.5 1351.1h6.2v6.2h-6.2zM1395.7 1351.1h6.2v6.2h-6.2zM1323.1 1357.7h6.2v6.2h-6.2zM1336.3 1357.7h6.2v6.2h-6.2zM1349.5 1357.7h6.2v6.2h-6.2zM1362.7 1357.7h6.2v6.2h-6.2zM1375.9 1357.7h6.2v6.2h-6.2zM1389.1 1357.7h6.2v6.2h-6.2zM1402.3 1357.7h6.2v6.2h-6.2zM1329.7 1364.3h6.2v6.2h-6.2zM1342.9 1364.3h6.2v6.2h-6.2zM1356.1 1364.3h6.2v6.2h-6.2zM1369.3 1364.3h6.2v6.2h-6.2zM1382.5 1364.3h6.2v6.2h-6.2zM1395.7 1364.3h6.2v6.2h-6.2zM1323.1 1370.9h6.2v6.2h-6.2zM1336.3 1370.9h6.2v6.2h-6.2zM1349.5 1370.9h6.2v6.2h-6.2zM1362.7 1370.9h6.2v6.2h-6.2zM1375.9 1370.9h6.2v6.2h-6.2zM1389.1 1370.9h6.2v6.2h-6.2zM1402.3 1370.9h6.2v6.2h-6.2zM1329.7 1377.5h6.2v6.2h-6.2zM1342.9 1377.5h6.2v6.2h-6.2zM1356.1 1377.5h6.2v6.2h-6.2zM1369.3 1377.5h6.2v6.2h-6.2zM1382.5 1377.5h6.2v6.2h-6.2zM1395.7 1377.5h6.2v6.2h-6.2zM1323.1 1384.1h6.2v6.2h-6.2zM1336.3 1384.1h6.2v6.2h-6.2zM1349.5 1384.1h6.2v6.2h-6.2zM1362.7 1384.1h6.2v6.2h-6.2zM1375.9 1384.1h6.2v6.2h-6.2zM1389.1 1384.1h6.2v6.2h-6.2zM1402.3 1384.1h6.2v6.2h-6.2zM1329.7 1390.7h6.2v6.2h-6.2zM1342.9 1390.7h6.2v6.2h-6.2zM1356.1 1390.7h6.2v6.2h-6.2zM1369.3 1390.7h6.2v6.2h-6.2zM1382.5 1390.7h6.2v6.2h-6.2zM1395.7 1390.7h6.2v6.2h-6.2zM1323.1 1397.3h6.2v6.2h-6.2zM1336.3 1397.3h6.2v6.2h-6.2zM1349.5 1397.3h6.2v6.2h-6.2zM1362.7 1397.3h6.2v6.2h-6.2zM1375.9 1397.3h6.2v6.2h-6.2zM1389.1 1397.3h6.2v6.2h-6.2zM1402.3 1397.3h6.2v6.2h-6.2zM1329.7 1403.9h6.2v6.2h-6.2zM1342.9 1403.9h6.2v6.2h-6.2zM1356.1 1403.9h6.2v6.2h-6.2zM1369.3 1403.9h6.2v6.2h-6.2zM1382.5 1403.9h6.2v6.2h-6.2zM1395.7 1403.9h6.2v6.2h-6.2zM1323.1 1410.5h6.2v6.2h-6.2zM1336.3 1410.5h6.2v6.2h-6.2zM1349.5 1410.5h6.2v6.2h-6.2zM1362.7 1410.5h6.2v6.2h-6.2zM1375.9 1410.5h6.2v6.2h-6.2zM1389.1 1410.5h6.2v6.2h-6.2zM1402.3 1410.5h6.2v6.2h-6.2zM1329.7 1417.1h6.2v6.2h-6.2zM1342.9 1417.1h6.2v6.2h-6.2zM1356.1 1417.1h6.2v6.2h-6.2zM1369.3 1417.1h6.2v6.2h-6.2zM1382.5 1417.1h6.2v6.2h-6.2zM1395.7 1417.1h6.2v6.2h-6.2zM1323.1 1423.7h6.2v6.2h-6.2zM1336.3 1423.7h6.2v6.2h-6.2zM1349.5 1423.7h6.2v6.2h-6.2zM1362.7 1423.7h6.2v6.2h-6.2zM1375.9 1423.7h6.2v6.2h-6.2zM1389.1 1423.7h6.2v6.2h-6.2zM1402.3 1423.7h6.2v6.2h-6.2zM1329.7 1430.3h6.2v6.2h-6.2zM1342.9 1430.3h6.2v6.2h-6.2zM1356.1 1430.3h6.2v6.2h-6.2zM1369.3 1430.3h6.2v6.2h-6.2zM1382.5 1430.3h6.2v6.2h-6.2zM1395.7 1430.3h6.2v6.2h-6.2zM1323.1 1436.9h6.2v6.2h-6.2zM1336.3 1436.9h6.2v6.2h-6.2zM1349.5 1436.9h6.2v6.2h-6.2zM1362.7 1436.9h6.2v6.2h-6.2zM1375.9 1436.9h6.2v6.2h-6.2zM1389.1 1436.9h6.2v6.2h-6.2zM1402.3 1436.9h6.2v6.2h-6.2zM1329.7 1443.5h6.2v6.2h-6.2zM1342.9 1443.5h6.2v6.2h-6.2zM1356.1 1443.5h6.2v6.2h-6.2zM1369.3 1443.5h6.2v6.2h-6.2zM1382.5 1443.5h6.2v6.2h-6.2zM1395.7 1443.5h6.2v6.2h-6.2zM1323.1 1450.1h6.2v6.2h-6.2zM1336.3 1450.1h6.2v6.2h-6.2zM1349.5 1450.1h6.2v6.2h-6.2zM1362.7 1450.1h6.2v6.2h-6.2zM1375.9 1450.1h6.2v6.2h-6.2zM1389.1 1450.1h6.2v6.2h-6.2zM1402.3 1450.1h6.2v6.2h-6.2zM1329.7 1456.7h6.2v6.2h-6.2zM1342.9 1456.7h6.2v6.2h-6.2zM1356.1 1456.7h6.2v6.2h-6.2zM1369.3 1456.7h6.2v6.2h-6.2zM1382.5 1456.7h6.2v6.2h-6.2zM1395.7 1456.7h6.2v6.2h-6.2zM1323.1 1463.3h6.2v6.2h-6.2zM1336.3 1463.3h6.2v6.2h-6.2zM1349.5 1463.3h6.2v6.2h-6.2zM1362.7 1463.3h6.2v6.2h-6.2zM1375.9 1463.3h6.2v6.2h-6.2zM1389.1 1463.3h6.2v6.2h-6.2zM1402.3 1463.3h6.2v6.2h-6.2zM1329.7 1469.9h6.2v6.2h-6.2zM1342.9 1469.9h6.2v6.2h-6.2zM1356.1 1469.9h6.2v6.2h-6.2zM1369.3 1469.9h6.2v6.2h-6.2zM1382.5 1469.9h6.2v6.2h-6.2zM1395.7 1469.9h6.2v6.2h-6.2zM1323.1 1476.5h6.2v6.2h-6.2zM1336.3 1476.5h6.2v6.2h-6.2zM1349.5 1476.5h6.2v6.2h-6.2zM1362.7 1476.5h6.2v6.2h-6.2zM1375.9 1476.5h6.2v6.2h-6.2zM1389.1 1476.5h6.2v6.2h-6.2zM1402.3 1476.5h6.2v6.2h-6.2zM1329.7 1483.1h6.2v6.2h-6.2zM1342.9 1483.1h6.2v6.2h-6.2zM1356.1 1483.1h6.2v6.2h-6.2zM1369.3 1483.1h6.2v6.2h-6.2zM1382.5 1483.1h6.2v6.2h-6.2zM1395.7 1483.1h6.2v6.2h-6.2zM1323.1 1489.7h6.2v6.2h-6.2zM1336.3 1489.7h6.2v6.2h-6.2zM1349.5 1489.7h6.2v6.2h-6.2zM1362.7 1489.7h6.2v6.2h-6.2zM1375.9 1489.7h6.2v6.2h-6.2zM1389.1 1489.7h6.2v6.2h-6.2zM1402.3 1489.7h6.2v6.2h-6.2z"/></svg>
<path class="bo" style="stroke-width:2.9" d="M1335.55 1484.5V1217.85H1396.75V1484.5"/>
<path class="er" d="M1462.5 1278.9V1262.9"/>
<path class="ca" d="M1446.6 1262.9H1478.4"/>
<rect x="1431.7" y="1279.2" width="61.6" height="205.3" fill="#fff"/>
<svg x="1431.7" y="1279.2" width="61.6" height="205.3" viewBox="1431.7 1279.2 61.6 205.3" overflow="hidden"><path class="dl" d="M1425.7 1196.44L1499.3 1265.63M1425.7 1213.04L1499.3 1282.23M1425.7 1229.64L1499.3 1298.83M1425.7 1246.24L1499.3 1315.43M1425.7 1262.84L1499.3 1332.03M1425.7 1279.44L1499.3 1348.63M1425.7 1296.04L1499.3 1365.23M1425.7 1312.64L1499.3 1381.83M1425.7 1329.24L1499.3 1398.43M1425.7 1345.84L1499.3 1415.03M1425.7 1362.44L1499.3 1431.63M1425.7 1379.04L1499.3 1448.23M1425.7 1395.64L1499.3 1464.83M1425.7 1412.24L1499.3 1481.43M1425.7 1428.84L1499.3 1498.03M1425.7 1445.44L1499.3 1514.63M1425.7 1462.04L1499.3 1531.23M1425.7 1478.64L1499.3 1547.83"/></svg>
<path class="bo" style="stroke-width:2.9" d="M1431.85 1484.5V1279.35H1493.15V1484.5"/>
<path class="ax" d="M1206.1 1121.45V1485.95"/>
<path class="axx" d="M1197.3 1484.5H1529.1"/>
<text class="tk" transform="translate(1192.5 1131.7) scale(1 1.08)">2.0</text>
<text class="tk" transform="translate(1192.5 1222.05) scale(1 1.08)">1.5</text>
<text class="tk" transform="translate(1192.5 1312.4) scale(1 1.08)">1.0</text>
<text class="tk" transform="translate(1192.5 1402.75) scale(1 1.08)">0.5</text>
<text class="tk" transform="translate(1192.5 1493.1) scale(1 1.08)">0.0</text>
<path class="ti" d="M1196.2 1123.1H1206.1M1196.2 1213.45H1206.1M1196.2 1303.8H1206.1M1196.2 1394.15H1206.1"/>
<path class="tx" d="M1269.8 1484.5V1494.2M1366.4 1484.5V1494.2M1463 1484.5V1494.2"/>
<text class="xl" transform="translate(1278.2 1515.9) scale(1 1) rotate(-45)">CON</text>
<text class="xl" transform="translate(1374.8 1515.9) scale(1 1) rotate(-45)">ECON</text>
<text class="xl" transform="translate(1471.4 1515.9) scale(1 1) rotate(-45)">EDMY</text>
<text class="yl" style="font-size:27.95px" transform="translate(1144.3 1303.4) scale(1 1) rotate(-90)">Albumin / Globulin</text>
<text class="lt" transform="translate(1271.7 1205.7) scale(1 1)">ab</text>
<text class="lt" transform="translate(1367.9 1180.8) scale(1 1)">a</text>
<text class="lt" transform="translate(1466 1241.6) scale(1 1)">b</text>
</g>
</g></svg></body></html>
